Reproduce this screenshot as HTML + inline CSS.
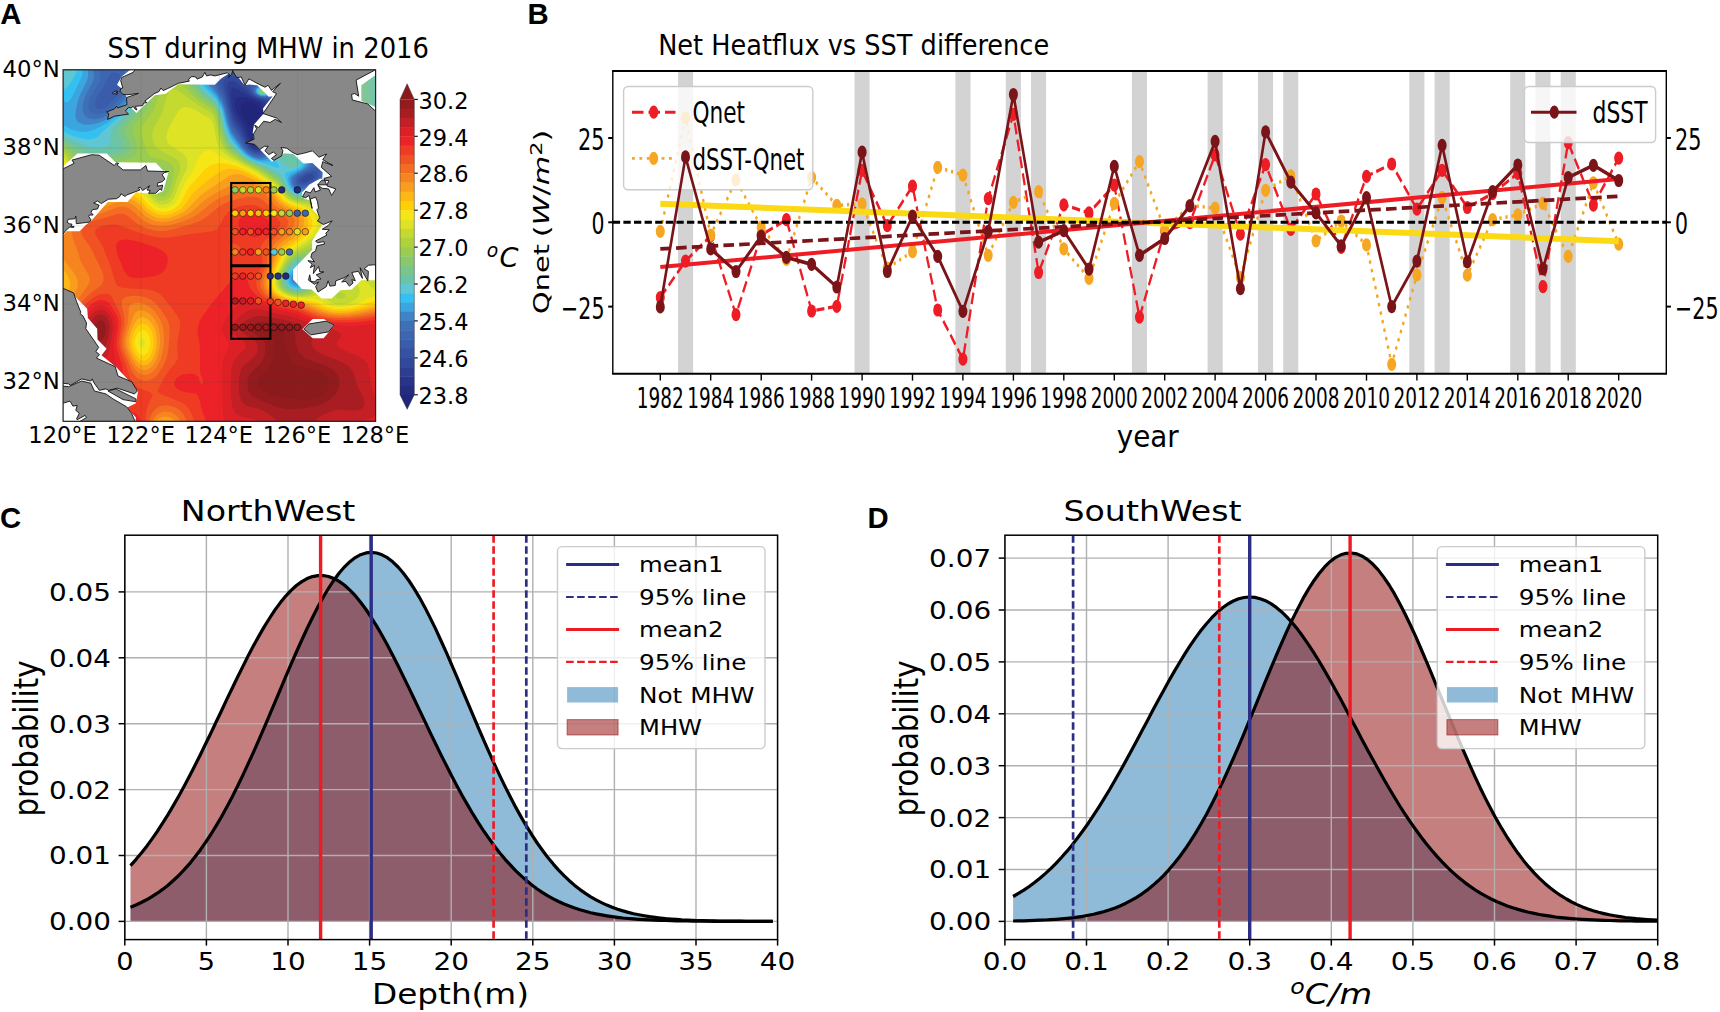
<!DOCTYPE html>
<html lang="en"><head><meta charset="utf-8"><title>MHW figure</title>
<style>html,body{margin:0;padding:0;background:#fff}svg{display:block}text{white-space:pre}</style></head>
<body>
<svg width="1720" height="1012" viewBox="0 0 1720 1012">
<rect width="1720" height="1012" fill="#fff"/>
<g id="panelA">
<clipPath id="clipA"><rect x="63.1" y="69.8" width="312.5" height="351.5"/></clipPath>
<g clip-path="url(#clipA)">
<rect x="63.1" y="69.8" width="312.5" height="351.5" fill="#21267a"/>
<path d="M63.1,421.3 375.6,421.3 375.6,69.8 63.1,69.8ZM256.4,143.1 254.5,142.3 252.5,138.6 251.9,130.3 251.3,128.4 244.7,119.7 243.0,116.7 241.3,112.8 240.5,108.9 240.8,106.2 241.2,105.0 242.8,103.1 244.7,102.1 248.6,101.7 254.5,103.3 257.3,105.0 259.4,106.9 261.5,110.8 262.0,112.8 262.0,116.7 261.0,120.6 258.7,126.4 258.4,128.4 259.3,136.2 259.0,140.1 258.4,141.8Z" fill="#242c82" fill-rule="evenodd"/>
<path d="M63.1,421.3 375.6,421.3 375.6,69.8 63.1,69.8ZM258.4,146.5 256.4,146.9 254.5,146.3 252.5,144.6 250.8,142.1 246.2,128.4 240.2,118.6 237.1,112.8 235.2,106.9 234.7,101.0 235.0,98.8 236.9,97.0 242.8,97.0 246.7,97.6 256.1,101.0 259.8,103.0 262.1,105.0 264.6,108.9 266.0,114.7 265.7,120.6 263.5,128.4 262.2,138.2 261.3,142.1 260.4,144.4Z" fill="#28348a" fill-rule="evenodd"/>
<path d="M63.1,421.3 375.6,421.3 375.6,69.8 63.1,69.8ZM258.4,149.0 256.4,149.1 254.5,148.6 252.5,147.4 250.6,145.4 248.5,142.1 243.0,128.4 235.0,115.4 232.7,108.9 231.1,100.4 230.6,95.2 231.0,89.3 233.0,87.4 235.0,87.9 240.5,91.3 251.7,97.1 261.0,101.0 264.3,103.0 266.0,105.0 268.0,108.9 269.1,112.8 269.7,116.7 269.1,122.5 265.7,132.3 262.3,144.9 260.4,147.9Z" fill="#2d3e92" fill-rule="evenodd"/>
<path d="M63.1,421.3 375.6,421.3 375.6,69.8 63.1,69.8ZM260.4,150.2 258.4,150.9 256.4,150.9 254.5,150.4 250.7,147.9 249.0,146.0 246.7,142.1 241.4,130.3 235.0,120.6 233.1,116.7 231.1,109.9 227.2,89.3 227.2,85.4 227.8,83.5 229.3,81.5 231.1,80.9 233.0,81.0 235.0,81.8 246.7,90.9 251.4,95.2 256.4,98.1 265.8,101.0 268.5,103.0 270.1,105.8 272.8,114.7 273.2,118.6 272.7,122.5 267.3,134.2 263.6,146.0 262.3,148.4Z" fill="#32489a" fill-rule="evenodd"/>
<path d="M63.1,421.3 375.6,421.3 375.6,69.8 63.1,69.8ZM301.2,181.1 301.2,179.2 302.8,177.2 306.2,175.3 311.1,174.1 313.1,174.7 313.6,175.3 313.6,177.2 312.1,179.2 309.2,181.1 305.3,182.3 303.3,182.2ZM260.4,152.2 258.4,152.6 254.5,152.0 250.9,149.9 248.8,147.9 246.0,144.0 240.1,132.3 235.0,124.7 233.0,121.1 231.1,115.8 223.7,85.4 223.8,81.5 224.7,79.6 227.2,77.5 231.1,76.3 233.0,76.4 236.9,77.9 246.7,86.7 248.6,89.0 251.3,93.2 253.4,95.2 258.4,97.9 270.1,100.6 271.2,101.0 272.7,103.0 274.2,106.9 276.3,114.7 276.8,118.6 276.3,122.5 274.5,126.4 269.4,134.2 264.3,148.1 262.3,150.9Z" fill="#3652a2" fill-rule="evenodd"/>
<path d="M63.1,421.3 375.6,421.3 375.6,69.8 63.1,69.8ZM298.8,183.1 298.0,181.1 298.4,179.2 299.9,177.2 302.6,175.3 307.2,172.9 313.1,171.1 315.0,171.1 317.0,172.7 317.3,175.3 316.5,177.2 314.9,179.2 311.1,181.8 307.2,183.6 303.3,184.5 301.4,184.4ZM260.6,153.8 258.4,154.1 254.5,153.4 251.5,151.8 248.6,149.6 245.7,146.0 239.1,134.2 232.8,124.5 230.5,118.6 225.2,97.5 220.1,83.5 220.2,79.6 221.1,77.6 223.2,75.7 225.2,74.7 229.1,73.3 233.0,72.8 236.9,73.1 238.9,73.7 241.5,75.7 249.9,85.4 250.6,86.9 251.7,91.3 252.8,93.2 254.9,95.2 258.4,97.0 262.3,98.2 274.0,98.6 275.6,99.1 276.9,101.0 280.5,116.7 280.4,120.6 280.0,122.5 277.9,126.4 272.1,133.3 270.3,136.2 265.9,147.9 264.3,151.0 262.3,153.0Z" fill="#3a5caa" fill-rule="evenodd"/>
<path d="M63.1,421.3 375.6,421.3 375.6,69.8 276.0,69.8 277.9,71.2 281.8,73.3 283.8,75.0 285.5,77.6 286.5,81.5 286.8,85.4 286.5,89.3 284.0,103.0 284.0,106.9 285.0,116.7 284.6,120.6 283.2,124.5 281.8,126.4 276.0,131.7 272.1,136.3 270.1,140.1 265.6,151.8 264.3,153.5 262.3,154.9 258.4,155.6 256.4,155.3 252.5,153.8 247.3,149.9 244.2,146.0 238.9,137.0 233.0,128.3 231.1,124.3 229.8,120.6 226.0,105.0 224.2,99.1 217.0,83.5 216.4,79.6 216.9,77.6 218.2,75.7 220.8,73.7 223.2,72.6 232.6,69.8 63.1,69.8ZM297.5,185.0 296.1,183.1 295.7,181.1 296.1,179.2 297.5,177.2 299.4,175.6 303.3,173.2 315.0,167.3 317.0,166.9 318.9,167.8 319.9,169.4 320.4,171.4 319.9,175.3 318.9,177.2 317.2,179.2 314.8,181.1 311.1,183.3 305.3,185.7 301.4,186.3 299.4,186.0ZM98.3,108.7 95.9,106.9 95.1,105.0 95.0,103.0 96.0,99.1 98.0,95.2 104.7,85.4 110.0,74.0 111.9,72.6 113.9,72.5 117.8,73.6 119.7,74.7 122.4,77.6 123.5,81.5 123.1,85.4 121.7,89.3 117.8,95.1 112.5,101.0 106.3,106.9 102.2,108.9 100.2,109.1ZM277.0,93.2 277.4,91.3 277.0,89.3 275.7,87.4 272.0,83.5 271.1,81.5 271.6,75.7 270.7,73.7 268.2,72.7 266.2,72.3 260.4,72.0 254.5,72.5 250.6,73.7 249.3,75.7 249.5,77.6 250.4,79.6 253.2,83.5 253.4,85.4 252.8,89.3 253.0,91.3 254.0,93.2 256.2,95.2 258.4,96.4 262.3,97.4 268.2,97.6 272.1,96.7 275.1,95.2Z" fill="#3c66b1" fill-rule="evenodd"/>
<path d="M63.1,421.3 375.6,421.3 375.6,69.8 291.8,69.8 293.1,73.7 294.0,79.6 295.3,93.2 295.4,99.1 294.2,105.0 288.8,122.5 286.6,126.4 284.5,128.4 277.9,132.7 274.0,136.4 270.7,142.1 268.1,149.9 266.3,153.8 264.3,155.8 262.3,156.6 260.4,156.9 256.4,156.6 252.5,155.1 250.2,153.8 246.7,150.9 242.7,146.0 233.0,131.4 231.1,127.7 229.1,122.4 225.3,106.9 223.5,101.0 221.3,96.1 214.0,83.5 213.0,79.6 213.2,77.6 214.0,75.7 215.8,73.7 219.2,71.8 224.7,69.8 121.7,69.8 124.3,71.8 126.0,73.7 127.7,77.6 127.9,83.5 127.0,87.4 125.4,91.3 123.1,95.2 120.1,99.1 110.7,108.9 108.0,110.9 104.1,113.1 98.3,114.5 94.3,114.1 92.4,113.3 90.4,111.7 88.8,108.9 88.4,105.0 89.0,101.0 90.4,97.1 98.5,83.5 100.1,79.6 100.6,75.7 100.3,73.7 99.5,71.8 98.2,69.8 63.1,69.8ZM295.5,185.7 294.0,183.1 293.7,181.1 294.1,179.2 295.2,177.2 297.5,175.3 307.5,169.4 310.2,167.4 315.0,163.0 317.0,162.1 318.9,162.1 321.4,163.5 322.7,165.5 323.3,167.4 323.3,171.4 322.2,175.3 319.4,179.2 313.1,183.6 305.3,187.2 301.4,187.9 299.4,187.8 297.5,187.2ZM254.1,91.3 255.0,93.2 257.3,95.2 260.4,96.5 264.3,97.0 268.2,96.8 272.1,95.3 274.2,93.2 274.8,91.3 274.2,89.3 272.1,86.7 268.2,84.3 262.3,82.4 260.4,82.5 256.4,85.4 254.5,88.1 254.0,89.3Z" fill="#3e70b8" fill-rule="evenodd"/>
<path d="M63.1,421.3 375.6,421.3 375.6,69.8 305.3,69.8 303.9,73.7 303.3,77.6 303.5,81.5 305.2,93.2 305.6,99.1 305.1,105.0 303.9,108.9 301.5,112.8 297.5,118.1 292.9,126.4 291.3,128.4 288.5,130.3 279.9,133.9 276.0,136.6 274.0,138.9 272.1,142.3 268.3,153.8 267.1,155.7 264.3,157.8 260.4,158.4 256.4,157.8 252.5,156.3 248.6,154.0 246.0,151.8 241.2,146.0 233.0,134.3 231.1,130.9 228.6,124.5 224.7,108.9 222.0,101.0 218.9,95.2 212.0,85.4 210.0,81.5 209.6,79.6 209.5,77.6 210.1,75.7 211.4,73.7 214.0,71.8 218.6,69.8 127.9,69.8 129.6,71.8 131.3,75.7 131.7,81.5 131.0,85.4 129.9,89.3 128.2,93.2 125.8,97.1 122.8,101.0 117.5,106.9 110.0,113.5 106.1,116.0 102.2,117.8 98.3,118.8 94.3,119.2 89.6,118.6 85.9,116.7 84.2,114.7 83.3,112.8 82.6,108.9 83.2,103.0 84.9,97.1 87.6,91.3 92.1,83.5 93.7,79.6 94.2,75.7 93.9,73.7 92.4,69.8 63.1,69.8ZM297.5,281.1 295.5,280.7 294.8,278.8 295.5,276.2 297.5,274.9 299.4,276.4 299.6,278.8 298.2,280.7ZM294.4,187.0 292.9,185.0 291.8,181.1 292.0,179.2 293.0,177.2 294.9,175.3 304.8,169.4 307.3,167.4 309.1,165.5 313.1,159.5 315.0,158.0 317.0,157.5 318.9,157.6 320.9,158.2 323.3,159.6 324.8,161.4 325.8,163.5 326.2,165.5 326.3,169.4 325.4,173.3 324.6,175.3 321.6,179.2 319.2,181.1 312.8,185.0 307.2,187.8 303.3,189.1 299.4,189.4 297.5,189.0ZM255.0,91.3 255.9,93.2 258.4,95.1 260.4,95.9 264.3,96.5 268.2,96.1 270.4,95.2 272.7,93.2 273.3,91.3 272.7,89.3 270.1,86.8 266.2,85.3 262.3,84.7 258.4,85.8 256.4,87.4 255.2,89.3Z" fill="#4084c6" fill-rule="evenodd"/>
<path d="M63.1,421.3 375.6,421.3 375.6,69.8 317.4,69.8 318.1,75.7 318.0,81.5 313.7,114.7 312.1,118.6 306.5,124.5 305.1,126.4 304.4,128.4 304.5,130.3 305.8,136.2 306.5,142.1 306.2,146.0 305.3,147.6 303.3,147.9 299.4,146.0 297.5,143.5 294.6,138.2 293.6,136.9 291.6,135.5 287.7,134.7 281.8,135.4 277.9,137.3 276.0,139.0 274.0,141.6 272.1,146.0 270.1,154.1 268.5,157.7 266.2,159.3 262.3,159.9 258.4,159.5 254.5,158.4 250.6,156.5 246.6,153.8 241.1,147.9 231.1,133.9 228.0,126.4 223.6,108.9 221.3,102.7 217.4,95.9 208.9,85.4 206.8,81.5 206.1,77.6 206.3,75.7 207.2,73.7 209.1,71.8 212.8,69.8 133.1,69.8 134.2,71.8 135.0,75.7 135.1,79.6 134.2,85.4 132.4,91.3 130.5,95.2 128.1,99.1 125.2,103.0 115.5,112.8 110.0,117.1 106.1,119.6 102.2,121.6 96.3,123.6 90.4,124.6 86.5,124.8 82.6,124.3 78.7,122.5 76.8,120.6 75.8,118.6 75.3,114.7 76.0,108.9 78.5,99.1 81.7,91.3 86.6,81.5 87.9,77.6 88.2,73.7 87.5,69.8 63.1,69.8ZM295.5,284.5 292.6,282.7 291.6,281.0 291.3,278.8 291.6,276.8 293.6,273.3 295.5,271.5 297.5,270.7 299.4,270.8 301.9,272.9 302.7,274.9 303.0,278.8 302.4,280.7 301.2,282.7 299.4,284.0 297.5,284.6ZM293.6,188.3 291.6,185.8 290.4,183.1 290.0,179.2 290.6,177.2 292.2,175.3 302.2,169.4 304.7,167.4 306.5,165.5 308.3,161.6 309.6,155.7 310.8,153.8 313.1,153.0 318.9,153.5 322.8,154.7 324.8,155.7 326.8,157.5 328.7,161.6 329.3,165.5 329.0,169.4 327.1,175.3 324.0,179.2 321.6,181.1 313.1,186.1 307.2,189.1 303.3,190.5 299.4,190.9 297.5,190.6 295.5,189.8ZM255.8,91.3 256.8,93.2 258.4,94.5 260.4,95.4 264.3,96.1 268.2,95.4 270.1,94.4 271.5,93.2 272.1,91.3 271.4,89.3 268.2,86.8 266.2,86.1 262.3,85.8 260.4,86.2 258.0,87.4 256.2,89.3Z" fill="#3aa5de" fill-rule="evenodd"/>
<path d="M63.1,421.3 375.6,421.3 375.6,69.8 329.6,69.8 330.1,75.7 330.0,83.5 327.7,105.0 327.9,118.6 327.2,124.5 326.5,126.4 324.8,128.8 317.0,134.2 315.4,136.2 314.5,138.2 314.0,142.1 315.0,145.8 317.0,147.7 326.8,151.1 328.7,152.2 330.7,154.3 331.9,157.7 332.3,161.6 332.0,167.4 331.3,171.4 329.8,175.3 328.6,177.2 324.3,181.1 307.2,190.6 301.4,192.3 297.5,192.1 295.5,191.4 292.2,188.9 289.5,185.0 288.2,181.1 287.9,179.2 288.1,177.2 289.6,174.6 291.4,173.3 299.5,169.4 302.2,167.4 303.9,165.5 304.9,163.5 305.3,161.6 304.8,157.7 303.9,155.7 302.1,153.8 297.3,149.9 290.4,140.1 287.7,138.3 283.8,137.6 279.9,138.5 277.9,139.6 275.6,142.1 274.0,144.9 273.0,147.9 271.7,157.7 271.0,159.6 270.1,160.7 268.2,161.6 262.3,161.5 256.4,160.2 250.6,157.8 244.9,153.8 241.1,149.9 231.9,138.2 229.7,134.2 226.8,126.4 222.4,108.9 219.3,101.8 215.4,96.0 207.6,87.9 204.6,83.5 203.1,79.6 202.7,75.7 203.1,73.7 204.3,71.8 206.9,69.8 138.2,69.8 138.7,75.7 137.7,83.5 135.5,91.3 132.8,97.1 128.9,103.0 123.7,108.9 115.8,116.1 110.0,120.7 102.2,125.8 94.3,129.7 88.5,131.6 84.6,132.1 78.7,131.6 73.9,130.3 69.5,128.4 63.1,124.7ZM295.5,286.6 291.6,284.9 289.8,282.7 289.2,280.7 289.4,276.8 291.2,272.9 293.6,270.0 295.5,268.5 297.5,267.7 299.4,267.6 301.4,268.2 304.0,271.0 305.3,274.9 305.3,278.8 304.0,282.7 302.3,284.6 299.4,286.3ZM65.1,101.9 67.0,102.2 69.0,101.2 70.9,98.8 72.9,95.3 81.4,77.6 82.4,73.7 82.6,69.8 63.1,69.8 63.1,100.6ZM256.7,91.3 257.6,93.2 260.4,94.9 264.3,95.6 268.2,94.8 270.4,93.2 271.1,91.3 270.3,89.3 268.2,87.7 264.3,86.6 260.4,87.0 258.4,88.1 257.1,89.3Z" fill="#34c0f0" fill-rule="evenodd"/>
<path d="M63.1,421.3 375.6,421.3 375.6,69.8 341.9,69.8 341.5,81.5 343.1,105.0 341.7,120.6 341.7,124.5 342.4,128.4 346.3,138.3 346.8,142.1 346.0,146.0 345.0,147.9 340.4,152.7 338.3,155.7 336.5,160.5 333.9,173.3 332.0,177.2 330.4,179.2 327.9,181.1 317.0,186.6 307.2,192.1 303.3,193.5 299.4,193.8 297.5,193.6 293.6,191.8 291.6,190.3 289.0,187.0 286.4,181.1 285.1,175.3 285.7,172.9 287.7,171.7 295.5,169.5 299.4,167.4 301.3,165.5 302.1,163.5 302.3,161.6 301.9,159.6 300.8,157.7 294.9,151.8 289.7,144.0 287.7,141.9 285.7,140.8 283.8,140.3 281.8,140.3 279.9,140.9 277.9,142.1 275.3,146.0 274.3,149.9 274.4,155.7 276.0,160.8 278.8,165.5 278.8,167.4 277.9,167.8 276.0,167.4 268.2,164.5 256.4,161.4 250.6,159.0 246.7,156.6 243.3,153.8 234.4,144.0 230.2,138.2 227.5,132.3 225.7,126.4 221.8,110.8 219.3,104.7 215.4,98.6 205.6,89.3 202.8,85.4 200.7,81.5 199.5,77.6 199.1,73.7 199.6,71.8 200.9,69.8 143.6,69.8 140.8,83.5 138.6,91.3 136.1,97.1 132.6,103.0 125.8,110.8 106.0,128.4 98.3,136.3 96.3,137.7 92.4,139.0 88.5,139.3 84.6,139.0 78.7,137.8 73.7,136.2 68.9,134.2 63.1,131.2ZM291.0,286.6 288.8,284.6 287.6,282.7 287.2,280.7 287.6,276.8 289.6,272.1 293.6,267.4 297.5,265.1 299.4,264.8 301.4,265.1 303.3,266.1 305.8,269.0 306.6,271.0 307.4,274.9 306.9,280.7 305.3,284.2 302.9,286.6 299.4,288.0 295.5,288.2ZM257.4,91.3 258.5,93.2 260.4,94.3 264.3,95.1 268.2,94.1 269.4,93.2 270.2,91.3 269.2,89.3 268.2,88.5 264.3,87.3 260.4,87.8 258.1,89.3ZM63.1,89.3 65.1,88.7 66.8,87.4 69.0,85.1 74.8,75.8 77.2,69.8 63.1,69.8Z" fill="#5fc6d4" fill-rule="evenodd"/>
<path d="M63.1,421.3 375.6,421.3 375.6,69.8 353.9,69.8 354.0,81.5 356.1,99.1 358.0,110.8 361.8,124.5 362.4,128.4 359.6,144.0 359.3,149.9 359.5,155.7 358.0,157.2 352.1,157.8 348.2,158.7 344.3,160.6 342.4,162.4 340.4,165.5 337.1,177.2 335.9,179.2 333.8,181.1 329.7,183.1 318.9,187.2 307.2,193.7 303.3,195.0 299.4,195.2 297.5,195.0 292.7,192.8 288.7,188.9 286.3,185.0 282.5,177.2 279.9,174.2 268.2,167.1 254.5,161.9 248.6,159.1 241.6,153.8 234.0,146.0 229.7,140.1 226.9,134.2 225.0,128.4 221.1,112.8 217.9,105.0 215.4,101.2 213.5,99.1 205.7,92.7 201.0,87.4 198.6,83.5 196.0,77.6 194.8,73.7 194.5,69.8 149.9,69.8 147.1,74.4 141.1,93.2 138.6,99.1 136.4,103.0 131.5,109.4 115.9,124.5 112.6,128.4 111.4,130.3 110.2,134.2 110.4,142.1 110.1,144.0 108.0,146.3 104.1,147.6 100.2,148.1 94.3,148.0 90.4,147.3 84.6,145.6 70.9,139.8 63.1,135.7ZM291.5,288.5 287.7,285.9 285.8,282.7 285.5,278.8 287.4,272.9 289.6,269.2 291.6,266.8 295.5,263.6 299.4,262.2 303.3,262.8 305.3,264.0 307.2,266.4 308.9,271.0 309.3,276.8 308.1,282.7 307.2,284.6 305.6,286.6 303.3,288.3 301.4,289.1 297.5,289.8 293.6,289.2ZM367.8,165.9 365.8,166.7 363.9,166.1 361.9,164.0 360.4,159.6 361.7,157.7 365.8,158.8 367.8,160.3 368.4,161.6 368.6,163.5ZM297.5,165.8 298.8,163.5 298.8,161.6 297.9,159.6 292.4,153.8 287.5,146.0 285.7,144.3 283.8,143.3 281.8,143.2 279.4,144.0 277.5,146.0 276.3,149.9 276.7,153.8 278.6,157.7 286.2,165.5 289.2,167.4 293.6,167.6 295.5,167.0ZM258.2,91.3 259.4,93.2 260.4,93.8 264.3,94.6 266.2,94.3 268.2,93.4 269.3,91.3 268.2,89.3 266.2,88.3 264.3,87.9 262.3,87.9 260.4,88.5 259.1,89.3ZM63.1,72.7 65.1,72.3 68.3,69.8 63.1,69.8Z" fill="#6cc4a8" fill-rule="evenodd"/>
<path d="M63.1,421.3 375.6,421.3 375.6,173.1 373.6,176.3 371.7,177.4 367.8,178.2 358.0,178.9 354.1,179.8 352.1,181.1 348.8,185.0 346.6,187.0 344.3,188.0 340.4,188.2 332.6,186.4 326.8,186.6 318.9,188.9 309.2,194.6 305.3,196.1 299.4,196.6 295.5,195.8 293.6,194.9 290.6,192.8 288.6,190.9 285.9,187.0 281.8,179.9 277.9,175.8 264.9,167.4 252.5,162.3 246.7,159.2 239.7,153.8 231.9,146.0 229.1,142.1 226.2,136.2 224.2,130.3 220.4,114.7 217.3,106.9 213.5,101.6 204.9,95.2 200.9,91.3 196.5,85.4 190.0,73.8 188.1,71.2 186.4,69.8 158.3,69.8 154.9,71.8 152.9,73.7 151.0,76.4 149.4,79.6 144.0,95.2 141.4,101.0 139.1,105.0 134.7,110.8 121.2,124.5 118.6,128.4 117.9,130.3 117.9,134.2 121.2,142.1 122.1,146.0 121.7,147.9 120.2,149.9 117.8,151.4 113.9,152.7 106.9,153.8 96.3,154.1 90.4,153.6 86.5,152.6 82.6,150.9 63.1,139.6ZM289.6,289.2 286.2,286.6 284.8,284.6 284.1,282.7 283.8,280.7 284.3,276.8 286.8,271.0 289.3,267.1 291.6,264.3 295.5,261.2 297.5,260.3 301.4,259.6 305.3,260.3 307.2,261.6 308.6,263.1 309.6,265.1 310.7,269.0 311.1,276.8 310.6,280.7 309.2,284.6 308.0,286.6 305.9,288.5 301.4,290.7 295.5,291.0 293.0,290.5ZM285.7,155.9 286.5,153.8 285.5,149.9 283.8,147.7 281.8,147.2 280.4,147.9 279.5,149.9 279.9,152.4 281.8,154.7 283.8,155.8ZM375.6,118.4 375.6,69.8 365.2,69.8 366.9,75.7 368.0,81.5 368.4,99.1 369.1,105.0 370.9,110.8 373.0,114.7ZM259.0,91.3 260.4,93.3 262.3,93.9 264.3,94.1 267.2,93.2 268.4,91.3 266.9,89.3 264.3,88.5 262.3,88.6 260.4,89.2Z" fill="#7ac58a" fill-rule="evenodd"/>
<path d="M63.1,421.3 375.6,421.3 375.6,194.8 373.6,191.6 371.7,189.5 369.7,188.5 365.8,188.6 361.9,190.5 356.7,194.8 354.1,196.3 352.1,197.1 348.2,197.9 344.3,197.8 340.4,197.0 336.5,195.1 330.7,190.9 326.8,189.8 322.8,190.0 319.7,190.9 311.1,195.7 305.3,197.8 301.4,198.1 297.5,197.7 294.5,196.7 291.6,195.2 287.7,191.7 280.6,181.1 276.6,177.2 264.3,168.9 250.6,162.6 245.3,159.6 240.0,155.7 231.4,147.9 228.4,144.0 225.4,138.2 222.8,130.3 219.0,114.7 217.4,110.4 215.4,106.8 211.5,102.6 203.7,97.4 199.2,93.2 194.3,87.4 188.1,78.2 186.0,75.7 182.2,72.8 179.4,71.8 176.4,71.1 168.6,71.1 162.7,72.5 160.1,73.7 157.4,75.7 154.2,79.6 151.4,85.4 146.5,99.1 142.5,106.9 138.1,112.8 127.2,124.5 125.0,128.4 124.6,130.3 125.3,134.2 128.9,142.1 130.0,146.0 130.0,147.9 129.5,149.9 128.3,151.8 125.6,154.3 121.7,156.2 113.9,157.8 96.3,159.0 88.5,158.7 84.6,157.7 80.7,155.7 70.4,147.9 63.1,143.0ZM286.1,288.5 284.2,286.6 283.0,284.6 282.4,282.7 282.4,278.8 283.4,274.9 285.2,271.0 289.6,264.0 293.6,260.2 295.5,258.9 299.4,257.3 305.3,256.9 307.2,257.4 309.2,258.4 311.1,260.6 312.2,263.1 313.2,271.0 313.0,276.8 312.5,280.7 311.2,284.6 310.2,286.6 308.6,288.5 306.0,290.5 303.3,291.6 299.4,292.3 295.5,292.2 291.6,291.4 289.3,290.5ZM259.9,91.3 261.7,93.2 264.3,93.6 266.2,93.0 267.4,91.3 266.2,89.8 264.3,89.1 261.8,89.3Z" fill="#8ac86c" fill-rule="evenodd"/>
<path d="M63.1,421.3 375.6,421.3 375.6,215.0 360.0,213.0 356.0,211.9 350.2,209.6 336.5,203.6 332.6,200.6 326.8,194.8 324.8,194.0 322.8,193.7 318.9,194.4 311.1,198.2 305.3,199.5 301.4,199.6 297.5,199.1 291.6,196.7 287.0,192.8 279.9,182.7 276.0,178.8 262.1,169.4 248.6,162.9 243.1,159.6 233.0,151.8 229.1,148.0 226.3,144.0 223.6,138.2 221.8,132.3 217.4,114.7 214.6,108.9 211.5,105.4 203.7,100.7 197.2,95.2 193.4,91.3 183.8,79.6 180.3,76.9 177.2,75.7 174.4,75.1 168.6,75.4 164.7,76.7 162.7,77.8 158.8,81.5 156.4,85.4 149.9,103.0 146.9,108.9 143.2,114.1 134.2,124.5 132.3,128.4 132.3,132.3 136.0,142.1 137.3,147.9 136.9,151.8 136.0,153.8 134.6,155.7 132.1,157.7 127.5,159.8 119.7,161.6 92.4,163.7 86.5,163.4 82.6,162.3 78.7,160.1 67.7,149.9 63.1,146.3ZM284.0,288.5 282.3,286.6 281.3,284.6 280.8,282.7 280.9,278.8 281.9,274.9 283.6,271.0 287.0,265.1 289.6,261.5 291.8,259.2 295.5,256.6 301.4,254.4 305.3,253.7 309.2,253.5 313.1,254.4 314.3,255.3 315.4,257.3 316.0,261.2 315.5,272.9 314.0,282.7 312.5,286.6 311.1,288.6 309.2,290.5 305.5,292.4 301.4,293.4 297.5,293.6 293.6,293.1 289.6,292.0 286.6,290.5ZM160.8,191.1 158.8,190.5 156.8,189.0 154.9,186.2 153.1,181.1 152.6,177.2 153.0,173.3 154.9,169.6 156.8,168.2 158.8,167.5 160.8,167.4 162.7,167.9 164.7,168.8 166.6,170.8 167.8,173.3 168.3,177.2 167.5,183.1 166.1,187.0 164.7,189.2 162.7,190.8ZM261.0,91.3 262.3,92.5 264.3,92.8 266.4,91.3 264.3,90.0 262.3,90.2Z" fill="#9acc52" fill-rule="evenodd"/>
<path d="M63.1,421.3 375.6,421.3 375.6,238.3 371.7,239.8 369.7,240.1 367.8,239.8 360.0,235.2 348.2,230.6 344.3,228.4 341.9,226.0 337.4,218.2 334.5,214.3 326.8,206.7 322.8,202.1 320.9,200.6 318.9,200.1 317.0,200.1 309.2,201.1 301.4,201.0 295.5,199.9 291.6,198.2 289.3,196.7 285.3,192.8 278.3,183.1 274.0,179.3 260.4,170.1 242.8,161.0 232.4,153.8 228.1,149.9 225.1,146.0 222.3,140.1 220.5,134.2 216.3,116.7 213.5,110.8 211.5,108.7 203.7,104.3 196.7,99.1 190.2,93.2 182.2,84.8 178.3,81.9 176.4,81.1 172.5,80.5 168.6,81.3 166.6,82.3 163.2,85.4 160.8,89.3 154.0,108.9 150.6,114.7 143.2,124.5 141.2,128.4 140.9,130.3 141.3,134.2 147.1,151.9 149.0,155.1 151.0,156.7 152.9,157.5 162.7,159.8 167.2,161.6 170.5,163.7 172.2,165.5 173.3,167.4 173.8,169.4 173.9,173.3 172.9,179.2 171.4,185.0 168.6,191.9 166.6,194.5 164.7,195.9 162.7,196.6 160.8,196.6 158.8,196.1 156.7,194.8 152.9,190.9 150.6,187.0 148.9,183.1 144.5,169.4 143.2,167.0 141.2,165.4 139.3,164.8 135.4,164.7 121.7,166.2 104.1,166.9 92.4,168.2 88.5,168.3 84.6,167.9 80.7,166.7 76.8,164.1 67.7,153.8 63.1,149.5ZM282.0,288.5 280.5,286.6 279.2,282.7 279.1,280.7 279.8,276.8 282.1,271.0 285.7,264.2 289.3,259.2 291.6,257.0 297.5,253.3 318.9,245.0 322.8,244.7 325.4,245.6 326.8,247.0 327.8,249.5 327.8,253.4 325.9,257.3 322.8,261.2 320.9,264.5 318.9,270.1 315.8,284.6 314.0,288.5 312.4,290.5 309.8,292.4 305.3,294.1 301.4,294.7 297.5,294.8 291.6,293.8 287.7,292.5 284.2,290.5Z" fill="#aed23c" fill-rule="evenodd"/>
<path d="M375.6,421.3 375.6,265.8 373.6,263.7 372.1,263.1 365.8,262.9 358.0,264.6 347.1,269.0 342.4,270.3 338.5,270.6 330.7,269.2 326.8,269.8 324.8,271.1 322.8,273.5 320.9,277.9 318.4,286.6 316.3,290.5 313.1,293.2 309.2,294.9 301.4,296.0 293.6,295.5 287.7,293.8 284.8,292.4 281.8,290.4 278.7,286.6 277.9,284.6 277.6,280.7 278.3,276.8 279.7,272.9 285.8,261.2 289.6,256.2 293.6,253.0 307.2,246.1 326.6,233.9 328.3,231.9 329.6,228.0 329.4,224.1 328.1,220.2 324.4,214.3 317.0,206.5 315.0,205.3 311.1,204.0 299.4,202.2 295.5,201.3 289.6,198.6 285.2,194.8 278.1,185.0 273.9,181.1 259.6,171.4 244.7,163.7 231.1,155.3 226.8,151.8 223.5,147.9 220.4,142.1 218.7,136.2 215.4,120.8 213.5,115.6 211.5,112.9 209.6,111.4 203.7,108.5 189.6,99.1 178.3,90.7 174.4,89.6 172.5,89.8 170.5,90.8 168.3,93.2 166.5,97.1 162.8,110.8 160.1,116.7 153.4,128.4 152.7,130.3 152.2,134.2 152.5,138.2 153.6,142.1 155.6,146.0 157.2,147.9 159.4,149.9 162.6,151.8 174.5,157.7 176.9,159.6 178.6,161.6 180.1,165.5 180.3,167.4 179.7,171.4 172.4,192.8 170.5,196.2 168.6,198.5 164.7,200.7 160.8,200.9 158.8,200.4 156.8,199.4 153.5,196.7 148.9,190.9 141.2,177.7 139.3,175.6 137.3,174.1 133.4,172.7 129.5,172.2 106.1,171.7 88.5,172.8 82.6,172.2 78.7,170.7 74.8,167.9 65.9,155.7 63.1,152.6 63.1,421.3ZM335.4,296.3 336.0,294.4 338.5,292.8 340.4,292.5 342.4,292.8 344.9,294.4 345.4,296.3 343.8,298.3 340.4,299.1 336.6,298.3Z" fill="#c5da30" fill-rule="evenodd"/>
<path d="M375.6,421.3 375.6,290.2 370.9,286.6 367.8,283.1 365.8,281.4 363.9,280.5 361.9,280.3 360.0,280.6 357.4,282.7 357.2,284.6 359.1,288.5 359.7,290.5 359.8,292.4 358.4,296.3 356.9,298.3 354.6,300.3 351.1,302.2 344.3,304.1 340.4,304.4 336.5,304.2 330.3,302.2 327.4,300.3 322.8,296.0 320.9,295.1 318.9,295.0 307.2,297.1 297.5,297.1 291.6,296.2 287.7,295.1 283.8,293.3 279.8,290.5 277.9,288.3 276.2,284.6 275.9,282.7 276.2,278.8 279.0,271.0 285.0,259.2 287.7,255.4 291.6,251.8 305.5,243.6 315.3,235.8 319.5,231.9 322.1,228.0 322.6,226.0 322.6,224.1 321.6,220.2 318.1,214.3 314.9,210.4 312.8,208.5 309.5,206.5 307.2,205.7 295.5,202.7 289.6,200.2 285.1,196.7 277.8,187.0 274.0,183.2 256.6,171.4 230.4,157.7 224.6,153.8 220.8,149.9 218.3,146.0 216.2,140.1 213.3,124.5 211.5,120.0 209.6,117.9 203.7,115.3 196.9,110.8 193.2,108.9 188.1,107.2 184.2,107.1 182.2,107.6 180.3,108.9 178.3,111.0 169.7,126.4 167.1,132.3 166.3,136.2 166.8,140.1 167.6,142.1 169.0,144.0 171.2,146.0 180.3,151.4 184.2,154.5 186.4,157.7 187.1,159.6 187.6,163.5 186.5,169.4 180.3,181.9 174.4,197.2 172.5,200.1 170.5,202.1 168.6,203.4 165.4,204.6 160.8,204.7 158.8,204.2 154.9,202.1 149.4,196.7 143.2,188.1 139.3,183.5 137.3,182.0 133.4,180.1 129.5,179.3 119.7,178.8 106.1,177.4 86.5,177.3 80.7,176.3 76.8,174.8 74.8,173.5 72.7,171.4 70.9,168.9 65.8,159.6 63.1,155.9 63.1,421.3Z" fill="#dee326" fill-rule="evenodd"/>
<path d="M63.1,159.5 63.1,421.3 375.6,421.3 375.6,296.6 369.7,297.4 356.0,304.2 350.2,305.9 342.4,307.0 336.5,306.8 332.6,306.2 328.7,305.1 317.0,299.5 313.1,298.9 297.5,298.3 287.7,296.3 281.8,293.7 277.9,290.7 276.1,288.5 274.4,284.6 274.2,280.7 275.7,274.9 282.9,259.2 285.7,254.5 287.7,252.2 291.0,249.5 300.6,243.6 305.8,239.7 312.0,233.9 315.2,229.9 316.3,228.0 317.2,224.1 316.5,220.2 313.4,214.3 310.1,210.4 305.3,207.4 293.6,203.6 287.6,200.7 283.1,196.7 277.4,188.9 274.0,185.3 270.1,182.3 256.6,173.3 236.9,163.5 223.3,157.7 219.5,155.7 211.5,150.7 209.6,150.1 207.6,150.3 203.7,152.3 199.8,156.4 192.9,171.4 183.7,185.0 178.0,198.7 175.5,202.6 173.6,204.6 170.5,206.6 164.7,208.3 160.8,208.2 158.8,207.8 155.9,206.5 152.9,204.6 149.0,200.9 139.3,189.5 137.3,188.0 133.4,186.2 129.5,185.3 115.8,184.8 100.2,183.1 84.6,181.9 78.7,180.9 74.8,179.5 72.9,178.2 70.3,175.3 69.0,172.8 65.3,163.5ZM141.2,347.2 139.9,345.2 139.4,343.2 139.6,341.3 141.2,338.7 143.2,338.7 144.8,341.3 145.1,343.4 144.7,345.2 143.4,347.1Z" fill="#f7e616" fill-rule="evenodd"/>
<path d="M63.1,164.1 63.1,421.3 375.6,421.3 375.6,300.8 371.7,301.6 359.1,306.1 351.5,308.1 342.4,309.1 334.6,308.8 326.8,307.0 317.0,302.7 313.1,301.4 293.6,298.9 285.7,297.0 281.8,295.3 277.5,292.4 275.5,290.5 273.0,286.6 272.2,282.7 273.2,276.8 281.6,257.3 283.8,253.3 287.7,248.9 298.7,241.7 303.5,237.8 308.9,231.9 311.5,228.0 312.5,224.1 312.1,220.2 309.3,214.3 305.6,210.4 302.4,208.5 289.6,203.6 285.7,201.3 281.8,197.8 276.0,189.8 273.4,187.0 268.3,183.1 256.4,175.4 248.9,171.4 240.4,167.4 235.0,165.4 229.1,164.0 223.2,163.2 216.8,163.5 211.5,164.9 207.6,167.2 203.7,170.7 189.1,187.0 186.1,191.8 181.9,200.7 178.3,205.5 174.6,208.5 170.6,210.4 166.6,211.5 162.7,211.8 156.8,210.5 152.9,208.5 148.4,204.6 139.3,194.6 135.4,191.9 131.5,190.5 125.6,189.8 106.1,189.8 98.3,189.4 76.8,186.6 70.9,185.0 69.0,183.9 67.0,181.1 64.8,169.4ZM143.2,355.4 141.1,354.9 139.3,353.6 137.3,351.2 135.4,347.1 134.7,343.2 135.4,337.9 137.3,333.7 139.3,331.4 141.2,330.2 143.2,330.0 145.1,330.7 147.1,332.5 148.8,335.4 149.9,339.3 150.2,343.2 149.7,347.1 148.3,351.0 147.1,353.1 145.1,354.8Z" fill="#ffd008" fill-rule="evenodd"/>
<path d="M63.1,421.3 375.6,421.3 375.6,304.2 360.0,308.4 352.1,310.1 342.4,311.1 334.6,310.8 329.8,310.0 324.8,308.6 313.1,303.8 309.2,302.7 291.6,299.8 285.7,298.3 279.9,295.8 275.0,292.4 273.2,290.5 271.0,286.6 270.4,284.6 270.4,280.7 272.0,274.9 276.5,265.1 280.9,253.4 283.4,249.5 285.2,247.5 297.5,239.0 301.0,235.8 304.5,231.9 306.9,228.0 308.2,224.1 308.0,220.2 306.6,216.3 303.6,212.4 299.4,209.5 289.6,205.5 283.8,202.1 280.3,198.7 274.0,190.4 270.1,186.7 254.5,176.9 247.5,173.3 240.8,170.6 235.0,168.9 229.1,168.7 225.1,169.4 220.8,171.4 211.5,177.5 195.9,190.3 192.0,194.5 185.1,204.6 181.2,208.5 178.3,210.5 174.4,212.6 170.5,214.0 166.6,214.8 162.7,215.1 158.8,214.6 152.9,212.3 147.8,208.5 141.2,201.4 137.3,197.8 133.4,195.6 129.5,194.4 123.6,193.8 117.8,194.0 96.3,196.6 90.4,196.4 74.8,194.8 69.0,195.2 65.1,196.1 63.1,196.9 63.1,278.2 64.0,280.7 64.4,284.6 64.1,286.6 63.1,288.9ZM143.2,360.7 141.2,360.2 139.3,359.0 135.4,354.2 133.4,350.4 132.3,347.1 131.6,341.3 132.7,335.4 135.4,329.6 137.3,326.8 139.3,324.9 141.2,323.9 143.2,323.6 145.1,324.1 147.1,325.3 149.0,327.2 151.0,330.2 152.9,335.8 153.6,343.2 152.9,349.1 150.8,354.9 149.0,357.7 147.1,359.5 145.1,360.5Z" fill="#fdb816" fill-rule="evenodd"/>
<path d="M63.1,421.3 160.7,421.3 164.7,420.6 168.1,421.3 375.6,421.3 375.6,306.9 360.0,310.6 350.2,312.3 340.4,312.9 332.6,312.4 322.8,310.1 307.2,304.0 289.6,300.6 283.8,299.0 277.6,296.3 272.5,292.4 270.8,290.5 268.8,286.6 268.3,284.6 268.3,280.7 270.0,274.9 275.1,263.1 278.7,251.4 280.9,247.5 282.7,245.6 293.9,237.8 297.5,234.7 299.9,231.9 302.5,228.0 303.9,224.1 304.0,220.2 303.5,218.2 301.4,214.4 299.2,212.4 296.1,210.4 285.7,205.8 281.1,202.6 277.9,199.2 272.1,191.5 268.2,188.0 252.7,179.2 243.4,175.3 238.9,174.2 235.0,174.1 231.1,175.0 229.1,175.9 207.6,190.2 201.8,194.6 197.2,198.7 190.0,206.5 184.2,211.4 176.4,215.5 168.6,217.9 164.7,218.4 160.8,218.4 156.8,217.7 152.9,216.3 147.1,212.5 139.3,204.5 135.4,201.2 131.5,199.2 125.6,197.9 119.7,197.9 114.0,198.7 100.2,202.8 94.3,203.9 88.5,204.5 72.9,204.9 67.0,206.2 65.1,207.1 63.1,208.8 63.1,269.4 65.9,272.9 68.2,276.8 69.7,280.7 70.3,284.6 69.7,288.5 67.8,292.4 65.9,294.4 63.1,296.1ZM143.2,365.4 141.2,364.9 138.2,362.8 135.4,359.4 133.4,356.3 130.9,351.0 129.5,347.1 128.9,341.3 129.4,337.4 130.4,333.5 132.7,327.6 135.4,322.4 137.3,319.6 139.3,318.0 141.2,317.2 143.2,317.2 147.1,318.7 149.0,320.2 152.9,325.2 154.9,329.5 156.0,333.5 156.8,341.3 156.4,347.1 155.7,351.0 154.6,354.9 152.8,358.8 151.0,361.6 149.0,363.5 147.1,364.7 145.1,365.3Z" fill="#f99e1c" fill-rule="evenodd"/>
<path d="M63.1,421.3 155.7,421.3 158.8,418.3 160.8,417.3 164.7,416.4 168.6,416.9 170.5,417.6 172.5,418.8 174.9,421.3 375.6,421.3 375.6,309.5 360.0,312.7 350.2,314.2 340.4,314.7 330.7,313.9 320.9,311.5 307.7,306.1 303.3,304.7 287.7,301.5 281.8,299.9 274.4,296.3 270.1,292.8 268.3,290.5 266.4,286.6 265.9,284.6 266.0,280.7 267.7,274.9 272.7,263.1 276.0,249.1 277.9,245.6 279.7,243.6 290.7,235.8 295.5,231.2 298.7,226.0 299.7,222.1 299.7,220.2 298.2,216.3 296.6,214.3 293.9,212.4 283.8,207.5 279.9,205.0 277.3,202.6 270.1,193.5 267.3,190.9 260.7,187.0 250.6,182.8 246.7,181.8 242.8,181.3 238.9,181.8 235.0,183.3 217.4,191.9 211.5,195.4 203.7,201.1 193.3,210.4 187.7,214.3 178.3,218.7 168.6,221.4 162.7,222.0 158.8,221.8 154.9,221.0 151.0,219.6 145.1,216.0 137.3,208.2 133.4,205.0 129.5,203.0 123.6,201.8 119.7,202.0 115.8,202.7 98.3,208.9 80.7,211.6 74.8,213.1 72.4,214.3 70.0,216.3 67.7,220.2 63.1,237.9 63.1,259.0 74.0,272.9 77.0,278.8 77.8,282.7 77.8,284.6 77.0,288.5 75.3,292.4 72.7,296.3 70.9,298.3 68.1,300.3 65.1,301.4 63.1,301.5ZM145.1,370.0 141.2,369.5 139.3,368.4 135.4,364.4 131.9,358.8 129.1,353.0 127.0,347.1 126.4,343.2 126.5,339.3 127.5,334.0 133.4,315.6 135.4,312.4 137.3,310.9 139.3,310.2 143.2,310.4 147.1,312.1 151.0,315.1 152.9,317.3 155.9,321.7 157.7,325.6 158.8,329.5 159.9,335.4 160.1,341.3 159.7,347.1 158.6,353.0 156.8,358.8 154.8,362.8 151.8,366.7 149.0,368.8Z" fill="#f68520" fill-rule="evenodd"/>
<path d="M63.1,421.3 152.2,421.3 154.9,416.8 158.8,413.4 162.7,411.8 166.6,411.5 170.5,412.2 174.4,413.9 178.2,417.4 180.3,421.3 375.6,421.3 375.6,312.0 358.0,315.1 348.2,316.2 338.5,316.4 328.7,315.4 318.9,312.9 302.0,306.1 285.7,302.5 279.9,300.9 274.0,298.3 271.0,296.3 268.2,293.9 265.5,290.5 263.7,286.6 263.3,284.6 263.4,280.7 265.0,274.9 270.0,263.1 270.7,259.2 271.5,251.4 272.3,247.5 274.0,244.3 276.3,241.7 286.9,233.9 291.0,229.9 293.5,226.0 294.2,224.1 294.6,220.2 294.0,218.2 291.6,215.4 289.6,213.9 277.9,207.6 274.3,204.6 266.2,195.0 262.3,192.4 258.4,190.8 252.5,189.5 246.7,189.5 238.9,191.3 225.2,195.6 219.3,198.2 213.5,201.7 197.9,213.9 192.0,217.5 182.2,221.7 176.4,223.5 168.6,225.4 162.7,226.0 158.8,225.9 152.9,224.9 149.0,223.6 145.1,221.6 141.2,218.9 133.4,211.4 129.5,208.5 125.6,206.9 123.6,206.6 117.8,207.1 102.2,212.9 82.6,217.4 77.2,220.2 75.2,222.1 73.9,224.1 73.0,226.0 72.2,229.9 72.3,235.8 73.2,239.7 77.0,249.5 80.7,261.2 82.6,265.1 88.8,274.9 89.8,278.8 89.7,280.7 88.3,284.6 85.8,288.5 78.4,298.3 74.9,302.2 72.6,304.2 69.0,306.4 65.1,307.2 63.1,306.9ZM145.1,374.9 141.2,374.3 139.3,373.4 137.3,371.9 134.5,368.6 131.5,363.4 127.3,354.9 125.1,349.1 124.2,345.2 124.1,339.3 127.9,321.7 128.9,308.1 129.6,306.1 131.5,304.2 135.4,302.8 139.3,302.7 145.1,304.2 149.0,306.4 152.9,309.6 156.8,314.2 160.2,319.8 162.5,325.6 163.7,331.5 164.0,339.3 163.5,347.1 162.1,354.9 160.2,360.8 156.8,367.2 152.9,371.7 149.0,374.1Z" fill="#f36c22" fill-rule="evenodd"/>
<path d="M63.1,421.3 148.9,421.3 151.0,415.1 152.9,411.9 154.9,409.6 158.8,406.8 160.8,406.1 164.7,405.4 168.6,405.6 172.5,406.4 176.4,408.0 179.0,409.6 182.2,412.7 184.2,415.5 186.5,421.3 375.6,421.3 375.6,314.5 360.0,316.9 348.2,318.1 336.5,318.2 326.8,317.0 317.0,314.4 299.4,307.3 283.8,303.7 277.9,302.0 270.1,298.3 265.2,294.4 263.6,292.4 261.3,288.5 260.6,286.6 260.1,282.7 261.2,276.8 265.4,267.1 266.7,263.1 267.2,259.2 267.0,251.4 267.4,247.5 269.0,243.6 270.6,241.7 274.7,237.8 282.5,231.9 285.7,228.5 287.3,226.0 288.3,222.1 287.9,220.2 286.7,218.2 284.6,216.3 274.0,210.0 269.5,206.5 263.5,200.7 260.6,198.7 258.4,197.8 252.5,196.7 246.7,197.1 236.9,199.2 229.1,201.6 223.2,204.2 219.3,206.5 207.5,216.3 199.8,221.0 188.1,225.3 174.4,229.1 166.6,230.7 160.8,231.0 156.8,230.7 151.0,229.6 145.1,227.8 137.3,223.8 128.1,216.3 125.6,214.7 121.7,213.5 115.8,214.2 106.1,217.4 90.4,221.4 84.6,224.1 82.6,226.0 81.6,228.0 81.3,231.9 81.7,233.9 83.6,237.8 89.3,245.6 91.7,249.5 101.9,271.0 103.6,276.8 103.5,280.7 102.2,283.9 100.2,286.1 88.5,295.0 74.8,308.7 69.0,312.5 65.1,313.3 63.1,313.0ZM149.0,380.3 145.1,380.7 141.2,380.0 137.3,377.9 135.4,376.1 133.4,373.7 131.5,370.3 124.7,354.9 122.5,349.1 121.7,345.2 121.5,341.3 122.2,335.4 124.3,325.6 124.6,319.8 123.8,313.9 121.9,306.1 121.7,302.2 122.2,300.3 123.6,298.3 127.5,296.5 133.4,295.7 141.2,296.2 147.1,297.9 151.7,300.3 156.3,304.2 161.2,310.0 166.3,317.8 168.8,323.7 169.6,329.5 169.5,335.4 168.2,351.0 166.5,358.8 162.9,366.7 157.7,374.5 154.9,377.3 152.9,378.7Z" fill="#f05223" fill-rule="evenodd"/>
<path d="M63.1,421.3 145.5,421.3 145.7,415.5 146.7,409.6 149.0,403.0 152.3,396.0 152.3,394.0 149.5,392.0 141.2,388.9 137.3,386.8 133.4,383.5 130.2,378.4 125.0,362.8 121.0,353.0 119.4,347.1 119.0,343.2 119.2,339.3 121.6,323.7 121.4,319.8 120.5,315.9 118.3,310.0 112.8,298.3 111.9,296.8 110.0,294.9 108.0,294.1 106.1,293.7 102.2,294.0 98.3,295.1 94.3,297.0 88.5,301.3 74.8,314.7 70.9,318.1 67.0,320.2 65.1,320.5 63.1,320.1ZM375.6,421.3 375.6,317.1 358.0,319.4 344.3,320.3 332.6,319.8 320.9,317.7 313.1,315.3 301.4,310.1 297.5,308.7 279.9,304.7 272.1,302.0 268.2,299.9 263.2,296.3 259.5,292.4 257.3,288.5 256.2,284.6 256.0,282.7 256.5,278.8 257.6,274.9 261.1,267.1 262.2,263.1 262.3,259.2 260.5,249.5 261.2,245.6 263.8,241.7 265.6,239.7 277.2,229.9 280.0,226.0 280.4,224.1 279.9,221.6 277.9,219.1 274.4,216.3 262.3,208.6 258.4,206.5 252.5,204.9 246.7,204.9 238.9,206.5 233.7,208.5 230.3,210.4 227.8,212.4 224.5,216.3 219.3,226.0 217.4,228.7 215.4,230.1 213.5,231.0 209.6,231.8 190.1,233.9 170.5,237.5 162.7,237.8 154.9,236.9 145.1,234.6 133.4,230.8 119.7,225.4 115.8,224.6 110.0,224.7 102.2,226.0 97.5,228.0 95.6,229.9 95.0,231.9 95.3,233.9 96.1,235.8 101.1,243.6 103.1,247.5 110.9,267.1 115.5,282.7 117.8,286.0 119.7,287.1 123.6,288.0 147.1,289.4 152.9,290.7 156.8,292.2 160.8,294.8 164.0,298.3 176.2,313.9 178.6,317.8 180.0,321.7 180.3,325.6 177.2,343.2 177.9,354.9 177.5,358.8 175.6,362.8 168.6,371.1 163.8,378.4 158.0,390.1 157.9,392.0 160.5,394.0 178.3,400.9 184.2,404.1 186.1,405.8 189.3,409.6 191.4,413.5 194.6,421.3ZM231.1,252.4 229.5,249.5 229.2,247.5 229.7,245.6 231.1,244.2 233.0,243.6 235.0,243.8 238.9,245.6 240.1,247.5 240.3,249.5 238.9,252.5 236.9,253.9 235.0,254.3 233.0,253.9Z" fill="#ef3a24" fill-rule="evenodd"/>
<path d="M63.1,421.3 110.5,421.3 116.4,415.5 117.3,413.5 117.1,409.6 115.7,401.8 115.7,396.0 116.7,392.0 121.7,381.4 122.8,376.4 123.0,372.5 122.0,364.7 117.8,353.0 116.5,347.1 116.4,341.3 118.5,327.6 118.5,321.7 117.7,317.8 116.1,313.9 111.9,306.7 108.0,302.3 106.1,301.0 104.1,300.3 100.2,300.1 96.3,301.3 92.4,303.6 87.0,308.1 79.7,315.9 75.1,321.7 69.0,333.0 67.0,333.6 65.1,332.3 63.1,330.2ZM120.7,417.4 120.9,421.3 141.2,421.3 139.3,417.4 137.3,414.7 135.4,412.9 131.5,411.3 127.5,411.3 123.6,413.0 121.2,415.5ZM175.0,386.2 176.4,388.2 180.3,390.7 184.6,392.0 195.9,393.6 197.9,395.2 198.9,397.9 202.2,411.6 206.3,421.3 375.6,421.3 375.6,320.0 358.0,322.0 348.2,322.6 338.5,322.5 328.7,321.5 322.8,320.4 315.0,318.5 309.2,316.3 299.6,312.0 293.7,310.0 279.9,307.2 274.0,305.5 268.2,303.1 262.9,300.3 255.2,294.4 251.8,290.5 249.4,286.6 246.3,276.8 244.7,275.5 242.8,275.7 233.0,280.1 227.7,284.6 212.8,302.2 201.8,317.0 199.3,321.7 197.9,327.2 197.5,331.5 197.9,335.4 199.5,343.2 199.9,347.1 200.1,370.6 200.6,374.5 201.8,376.7 202.8,380.3 203.0,382.3 201.8,385.0 199.8,382.3 199.2,378.4 198.2,376.4 195.3,374.5 192.0,373.8 188.1,373.7 182.2,374.8 178.8,376.4 176.5,378.4 175.2,380.3 174.5,382.3 174.4,384.2ZM116.2,245.6 116.3,249.5 117.7,255.3 123.6,269.8 125.6,273.3 127.5,275.5 129.7,276.8 133.4,277.9 139.3,278.1 149.0,277.1 154.9,275.9 158.8,274.5 161.6,272.9 164.7,269.9 166.3,267.1 167.8,261.2 167.4,257.3 166.7,255.3 165.5,253.4 163.5,251.4 160.5,249.5 156.2,247.5 138.7,241.7 127.5,239.6 123.6,239.6 119.7,240.6 117.8,242.0 116.7,243.6ZM238.4,224.1 239.8,228.0 243.3,231.9 248.6,235.6 252.5,237.0 254.5,237.2 256.4,237.0 260.4,235.6 266.0,231.9 270.1,228.0 271.0,226.0 271.1,224.1 270.2,222.1 268.5,220.2 264.3,217.3 258.4,214.6 252.5,213.5 246.7,214.2 242.3,216.3 240.3,218.2 239.1,220.2 238.5,222.1Z" fill="#ec2228" fill-rule="evenodd"/>
<path d="M224.7,421.3 375.6,421.3 375.6,323.7 361.9,325.3 350.2,325.9 338.5,325.4 330.7,324.5 320.9,322.6 313.1,320.7 307.2,318.6 295.5,313.6 289.6,312.0 274.0,308.8 256.4,302.0 252.5,300.8 246.7,300.4 244.7,300.8 240.8,302.8 235.0,307.3 230.6,312.0 224.2,321.7 222.4,325.6 222.0,327.6 222.2,331.5 224.1,335.4 228.0,341.3 228.8,343.2 228.8,345.2 228.4,347.1 223.5,358.8 222.5,362.8 221.9,368.6 222.4,407.7 223.2,416.2ZM70.9,376.1 72.9,376.5 76.8,376.2 86.8,372.5 92.4,371.5 98.3,371.6 106.1,372.4 110.0,372.3 111.9,371.7 113.7,370.6 115.1,368.6 115.9,366.7 115.9,362.8 113.8,353.0 113.4,347.1 113.7,341.3 115.8,327.6 115.5,321.7 113.9,316.8 111.2,312.0 108.0,308.2 104.1,305.6 102.2,305.0 98.3,305.3 96.2,306.1 92.4,308.5 88.5,311.9 84.9,315.9 82.0,319.8 79.8,323.7 78.6,327.6 78.2,331.5 79.3,345.2 79.1,349.1 78.5,353.0 76.9,356.9 75.3,358.8 69.0,363.2 67.3,364.7 66.5,366.7 66.6,370.6 67.2,372.5 69.0,374.9Z" fill="#dc2026" fill-rule="evenodd"/>
<path d="M232.8,407.7 235.0,412.2 236.9,414.3 238.9,415.6 242.8,416.9 254.5,419.1 258.4,421.3 356.0,421.3 367.8,419.2 371.7,417.7 373.6,416.1 375.6,412.1 375.6,401.8 374.0,394.0 370.7,382.3 369.0,368.6 367.8,364.4 365.3,360.8 361.9,358.3 356.0,355.4 345.4,351.0 341.4,349.1 338.6,347.1 337.0,345.2 336.6,343.2 337.4,341.3 340.3,337.4 341.3,335.4 340.7,333.5 337.7,331.5 332.5,329.5 309.2,323.1 291.6,316.5 276.0,313.5 260.4,309.3 254.5,308.9 248.6,310.5 244.7,312.7 240.8,315.7 234.7,321.7 232.3,325.6 231.9,327.6 231.9,329.5 232.6,331.5 233.9,333.5 236.9,336.3 243.2,341.3 245.0,343.2 245.8,345.2 245.7,347.1 244.8,349.1 236.9,356.9 235.0,359.4 233.1,362.8 231.9,366.7 231.0,374.5 230.9,392.0 231.6,401.8ZM102.2,358.9 104.1,358.5 106.1,357.4 108.0,354.5 109.4,349.1 112.3,333.5 112.9,325.6 111.7,319.8 110.0,316.3 108.3,313.9 106.1,311.7 104.1,310.4 102.2,309.7 100.2,309.6 98.0,310.0 94.3,311.9 91.9,313.9 88.4,317.8 84.9,323.7 83.9,327.6 83.6,331.5 84.3,337.4 85.7,343.2 87.7,349.1 90.0,353.0 92.4,355.6 96.3,357.9 100.2,358.8Z" fill="#c31f25" fill-rule="evenodd"/>
<path d="M362.8,407.7 364.0,405.7 364.4,403.8 364.0,399.9 362.5,396.0 356.7,384.2 353.9,374.5 352.1,370.5 349.0,366.7 344.3,363.4 338.8,360.8 322.8,354.8 318.9,352.8 314.1,349.1 311.6,345.2 311.3,343.2 311.6,341.3 314.6,335.4 314.4,333.5 312.7,331.5 305.3,327.6 296.5,323.7 289.6,321.2 281.8,319.3 262.3,316.1 256.4,316.4 250.6,318.3 244.7,321.7 242.5,323.7 241.0,325.6 240.4,327.6 240.5,329.5 241.6,331.5 244.7,334.3 252.9,339.3 255.3,341.3 256.8,343.2 257.9,347.1 257.4,351.0 255.6,354.9 252.5,358.4 244.5,364.7 241.6,368.6 240.1,372.5 239.3,376.4 238.9,382.3 238.9,388.1 239.4,394.0 241.0,399.9 242.8,402.7 244.7,404.5 248.6,406.4 258.4,408.8 264.3,411.2 270.8,415.5 277.9,421.3 317.0,421.3 315.9,419.4 318.4,417.4 326.0,413.5 334.6,410.3 340.4,409.4 352.1,410.4 356.0,410.4 360.0,409.6ZM100.2,349.8 102.2,349.3 104.1,347.7 106.1,344.5 108.9,335.4 109.9,327.6 108.8,321.7 106.6,317.8 104.1,315.4 102.2,314.6 100.2,314.4 98.3,314.8 96.3,315.7 92.1,319.8 89.8,323.7 88.6,329.5 88.8,333.5 89.6,337.4 92.4,344.1 94.3,346.8 96.3,348.5 98.3,349.5Z" fill="#a81d21" fill-rule="evenodd"/>
<path d="M334.1,396.0 337.1,392.0 338.1,390.1 339.3,386.2 339.3,380.3 338.2,376.4 337.2,374.5 334.0,370.6 328.7,367.0 322.8,364.6 309.2,360.2 305.3,358.3 301.4,355.1 298.5,351.0 296.1,345.2 295.2,341.3 295.2,333.5 294.6,331.5 293.2,329.5 289.6,327.0 283.8,324.5 277.9,323.1 270.1,322.0 264.3,321.7 258.4,322.3 254.0,323.7 251.0,325.6 249.7,327.6 249.8,329.5 251.2,331.5 259.9,337.4 262.3,339.3 263.9,341.3 264.9,343.2 265.6,347.1 264.6,354.9 262.4,360.8 259.5,364.7 251.3,372.5 249.9,374.5 248.2,378.4 247.4,382.3 247.8,388.1 249.2,392.0 250.4,394.0 252.3,396.0 255.2,397.9 277.9,407.3 283.8,408.8 289.6,409.2 305.3,408.1 317.0,405.9 320.9,404.5 326.5,401.8 330.7,399.0ZM100.2,340.8 102.2,339.9 104.1,337.3 105.4,333.5 106.1,329.5 105.7,325.6 104.1,322.1 102.2,320.6 100.2,320.2 98.3,320.9 95.5,323.7 94.3,326.2 93.8,329.5 94.1,333.5 95.6,337.4 98.3,340.3Z" fill="#931a1d" fill-rule="evenodd"/>
<path d="M323.4,394.0 326.8,390.1 327.9,388.1 328.9,384.2 328.6,380.3 326.5,376.4 322.8,373.2 318.9,371.2 315.0,370.0 299.4,366.7 295.5,364.8 293.0,362.8 291.4,360.8 289.2,356.9 284.8,345.2 283.8,341.3 284.3,333.5 283.4,331.5 281.1,329.5 276.0,327.7 270.1,327.1 265.0,327.6 262.4,329.5 263.1,331.5 272.5,339.3 273.8,341.3 274.5,345.2 273.0,356.9 271.4,362.8 268.2,368.3 261.2,376.4 258.9,380.3 258.4,382.3 258.5,384.2 259.1,386.2 260.4,388.1 264.3,391.1 272.1,394.3 283.8,397.5 295.5,399.3 305.3,399.7 313.1,398.9 318.9,396.9Z" fill="#8b1a1c" fill-rule="evenodd"/>
<polygon points="356.1,80.1 374.7,70.2 377.9,70.2 377.9,111.2 375.6,111.2 367.7,103.9 352.3,100.0 351.6,94.3 354.8,93.6 358.7,96.2" fill="#fff"/>
<polygon points="131.2,69.1 121.7,76.5 117.0,84.8 121.7,88.5 127.0,97.4 127.0,104.7 132.2,108.9 136.4,113.1 143.7,105.8 147.9,102.1 154.7,95.3 165.7,93.7 178.3,84.3 214.9,84.8 221.2,78.6 228.5,73.8 232.7,70.2 232.7,69.1" fill="#fff"/>
<polygon points="62.2,167.2 77.4,153.6 106.7,153.6 115.4,162.3 155.7,162.8 163.3,170.4 168.7,171.5 165.4,183.5 163.3,191.1 155.7,194.3 136.1,192.2 127.4,202.0 107.8,202.0 91.5,220.4 86.1,224.8 79.6,231.3 66.5,231.3 62.2,236.2" fill="#fff"/>
<polygon points="232.8,69.9 244.4,85.3 249.5,84.6 257.2,85.3 268.8,96.8 272.6,96.2 263.0,108.4 263.7,113.5 254.0,124.4 252.7,132.8 254.7,144.3 272.0,161.7 284.2,153.3 293.2,154.0 303.5,163.6 312.5,163.0 322.7,172.6 322.1,180.3 315.0,181.6 302.2,192.5 302.2,196.0 348.4,196.0 348.4,69.9" fill="#fff"/>
<polygon points="319.8,178.8 309.1,184.7 302.0,193.0 304.4,199.0 310.3,200.2 312.7,209.6 319.2,216.7 322.2,225.0 312.1,241.0 312.1,249.9 293.1,269.5 293.1,279.6 302.0,289.1 311.5,289.6 321.6,298.5 331.6,298.5 340.5,290.2 351.8,289.6 361.3,280.2 376.7,280.2 376.7,178.8" fill="#fff"/>
<polygon points="62.1,287.2 74.3,295.8 87.2,308.7 87.9,318.0 97.2,328.7 97.5,339.5 106.6,348.8 101.5,355.2 116.6,367.4 127.3,378.9 138.1,391.0 135.9,403.2 127.3,407.5 135.9,417.5 135.5,422.6 62.1,422.6" fill="#fff"/>
<polygon points="302.4,329.0 312.7,319.1 323.6,319.1 334.8,325.0 323.6,338.3 312.7,338.3" fill="#fff"/>
<linearGradient id="trg" x1="0" x2="1" y1="0" y2="0"><stop offset="0" stop-color="#86c78e"/><stop offset="1" stop-color="#6ec4b4"/></linearGradient>
<polygon points="361.3,85.3 377.3,73.7 377.3,107.7 361.3,100.7" fill="url(#trg)"/>
<line x1="141.2" y1="69.8" x2="141.2" y2="421.3" stroke="#555" stroke-opacity="0.10" stroke-width="0.7"/>
<line x1="219.3" y1="69.8" x2="219.3" y2="421.3" stroke="#555" stroke-opacity="0.10" stroke-width="0.7"/>
<line x1="297.5" y1="69.8" x2="297.5" y2="421.3" stroke="#555" stroke-opacity="0.10" stroke-width="0.7"/>
<line x1="63.1" y1="382.3" x2="375.6" y2="382.3" stroke="#555" stroke-opacity="0.10" stroke-width="0.7"/>
<line x1="63.1" y1="304.2" x2="375.6" y2="304.2" stroke="#555" stroke-opacity="0.10" stroke-width="0.7"/>
<line x1="63.1" y1="226.0" x2="375.6" y2="226.0" stroke="#555" stroke-opacity="0.10" stroke-width="0.7"/>
<line x1="63.1" y1="147.9" x2="375.6" y2="147.9" stroke="#555" stroke-opacity="0.10" stroke-width="0.7"/>
<polygon points="135.3,69.1 133.3,72.3 121.7,77.5 120.7,80.7 122.8,88.0 120.7,88.5 120.2,91.6 122.8,94.3 127.0,94.8 138.5,93.4 127.0,97.4 126.5,99.0 127.0,104.7 117.6,107.9 116.5,106.3 114.4,108.9 106.6,112.0 108.7,113.6 107.6,119.4 114.4,116.2 128.5,114.1 125.4,111.0 128.5,107.3 131.2,107.9 133.3,106.3 134.8,108.9 136.9,110.0 135.3,106.3 142.7,105.6 143.7,103.1 146.9,102.6 144.8,101.1 151.0,96.3 154.2,93.7 158.9,91.6 161.0,88.0 163.1,90.6 167.8,88.5 178.3,83.3 189.2,81.2 188.7,79.1 191.9,76.5 196.0,77.0 197.1,79.1 202.3,77.0 204.9,72.3 206.5,75.9 210.7,74.9 214.9,75.9 227.4,72.8 229.5,74.4 228.5,77.5 231.6,74.4 232.7,70.7 237.9,74.4 244.2,75.9 244.2,69.1" fill="#888" stroke="#111" stroke-width="0.9" stroke-linejoin="round"/>
<polygon points="112.3,93.4 113.9,91.6 117.0,90.9 117.8,92.2 116.0,92.7 117.3,93.4 116.5,94.8 115.3,93.4 113.6,94.0" fill="#888" stroke="#111" stroke-width="0.9" stroke-linejoin="round"/>
<polygon points="62.2,169.3 74.1,163.4 72.0,160.1 91.5,154.7 99.1,155.2 114.3,165.5 116.5,162.8 118.7,163.4 117.1,165.0 123.0,169.9 140.4,169.9 145.9,165.5 147.5,171.0 164.3,171.5 168.7,171.5 164.3,172.6 162.2,174.8 164.9,179.1 162.2,181.8 157.8,182.9 157.3,186.2 162.7,185.1 161.6,190.5 160.0,188.9 155.7,193.3 148.6,193.3 150.2,190.5 147.0,190.0 149.7,185.7 145.9,188.4 142.6,190.5 140.4,187.3 138.3,187.8 139.9,190.0 126.8,194.9 125.2,196.5 120.9,193.8 119.8,196.5 116.5,198.7 108.4,199.2 101.3,203.6 97.5,200.9 93.7,203.0 99.1,205.2 97.5,209.0 92.6,209.6 91.0,212.3 93.2,215.0 89.3,215.0 88.8,216.6 91.0,219.9 89.3,222.1 76.3,223.7 75.8,216.1 74.7,218.8 68.2,219.3 67.1,222.1 69.2,223.7 72.0,224.2 70.9,226.4 74.1,226.4 73.6,227.5 69.8,227.0 66.0,230.2 62.2,235.1" fill="#888" stroke="#111" stroke-width="0.9" stroke-linejoin="round"/>
<polygon points="233.0,66.0 232.8,71.1 236.7,77.6 241.2,76.9 245.0,85.3 248.9,78.8 256.0,82.7 264.9,87.2 268.2,85.3 271.4,90.4 280.4,83.3 272.6,91.7 276.5,93.6 263.0,113.5 276.5,118.0 281.6,122.5 275.2,119.3 270.1,122.5 263.7,121.2 258.5,127.6 254.7,125.1 256.6,128.9 253.4,134.1 254.0,139.2 245.7,143.0 254.7,144.3 259.8,149.5 264.3,146.3 268.2,146.3 264.9,150.8 268.8,154.6 273.3,152.0 276.5,154.6 271.4,158.5 273.9,160.4 281.6,155.9 282.9,150.8 281.0,147.5 286.8,148.2 291.9,152.0 297.0,154.6 303.5,153.3 312.5,150.8 318.9,157.2 326.6,154.0 322.7,159.7 333.0,165.5 322.7,161.7 321.4,167.4 331.7,176.4 324.0,178.4 326.6,184.8 317.6,184.8 322.2,180.0 328.7,180.6 326.9,185.9 335.8,188.9 331.6,195.4 328.7,188.9 322.2,188.3 318.0,185.3 320.4,190.1 315.0,191.9 313.9,187.7 310.3,193.0 305.6,191.3 302.6,196.6 305.6,197.8 309.1,195.4 312.1,208.4 310.3,199.0 315.6,197.2 317.4,201.3 318.6,208.4 316.8,209.6 319.8,217.9 317.4,220.9 323.3,224.5 332.2,220.9 328.1,225.6 322.2,229.2 329.3,229.8 325.7,233.3 326.9,235.1 315.6,241.0 317.4,242.8 323.9,241.6 324.5,244.0 316.8,245.8 315.6,251.1 312.1,252.9 310.9,257.1 314.5,261.8 307.9,260.6 312.1,264.2 310.3,267.7 314.5,265.3 313.3,273.6 318.6,266.5 319.8,271.9 323.9,271.9 316.2,274.8 321.0,279.0 316.8,279.6 315.0,281.9 310.9,281.4 309.7,274.8 308.5,280.2 314.5,284.3 318.6,281.9 315.6,286.7 318.0,292.0 326.3,286.7 328.1,280.8 329.9,286.1 335.2,285.5 335.8,280.8 344.1,277.8 348.8,274.8 341.7,281.9 345.9,281.4 349.4,286.1 353.0,283.1 351.8,279.6 355.3,280.8 351.8,272.5 358.3,271.3 362.5,278.4 360.1,267.7 367.8,280.8 368.4,271.3 364.2,268.9 368.4,265.3 373.7,264.8 376.7,265.3 380.0,265.0 377.9,111.2 375.6,111.2 367.7,103.9 352.3,100.0 351.6,94.3 354.8,93.6 358.7,96.2 356.1,80.1 374.7,70.2 377.9,68.6 380.0,60.0 233.0,60.0" fill="#888" stroke="#111" stroke-width="0.9" stroke-linejoin="round"/>
<polygon points="62.1,287.9 73.6,292.9 76.5,301.5 80.8,312.2 80.1,313.7 82.9,315.8 86.5,323.0 85.8,328.7 98.7,347.3 95.8,351.6 99.4,354.5 96.5,358.1 115.2,366.7 118.0,376.0 131.6,381.7 137.4,391.0 134.5,393.9 117.3,388.2 108.7,390.3 105.8,388.9 99.4,390.3 93.7,382.4 92.2,378.9 90.8,381.0 81.5,378.9 70.7,385.3 68.6,383.9 62.1,383.2" fill="#888" stroke="#111" stroke-width="0.9" stroke-linejoin="round"/>
<polygon points="108.0,391.0 115.9,388.9 135.9,398.9 135.9,401.8 123.0,399.6" fill="#888" stroke="#111" stroke-width="0.9" stroke-linejoin="round"/>
<polygon points="62.1,386.0 68.6,386.7 81.5,381.0 90.8,383.2 94.4,391.0 105.8,393.9 113.0,398.9 126.6,406.8 131.6,413.2 135.5,422.6 77.9,422.6 86.5,417.5 85.1,415.4 77.2,419.7 76.5,419.0 79.3,413.2 75.8,410.4 77.2,405.4 72.9,406.1 70.0,401.1 62.1,403.5" fill="#888" stroke="#111" stroke-width="0.9" stroke-linejoin="round"/>
<polygon points="303.8,329.0 308.7,324.0 326.5,321.1 334.4,325.0 328.5,331.9 310.7,334.9" fill="#888" stroke="#111" stroke-width="0.9" stroke-linejoin="round"/>
<line x1="141.2" y1="69.8" x2="141.2" y2="421.3" stroke="#444" stroke-opacity="0.12" stroke-width="0.7"/>
<line x1="219.3" y1="69.8" x2="219.3" y2="421.3" stroke="#444" stroke-opacity="0.12" stroke-width="0.7"/>
<line x1="297.5" y1="69.8" x2="297.5" y2="421.3" stroke="#444" stroke-opacity="0.12" stroke-width="0.7"/>
<line x1="63.1" y1="382.3" x2="375.6" y2="382.3" stroke="#444" stroke-opacity="0.12" stroke-width="0.7"/>
<line x1="63.1" y1="304.2" x2="375.6" y2="304.2" stroke="#444" stroke-opacity="0.12" stroke-width="0.7"/>
<line x1="63.1" y1="226.0" x2="375.6" y2="226.0" stroke="#444" stroke-opacity="0.12" stroke-width="0.7"/>
<line x1="63.1" y1="147.9" x2="375.6" y2="147.9" stroke="#444" stroke-opacity="0.12" stroke-width="0.7"/>
<rect x="231.2" y="183" width="39.2" height="155.8" fill="none" stroke="#000" stroke-width="2.1"/>
<line x1="231.2" y1="265.8" x2="270.4" y2="265.8" stroke="#000" stroke-width="2.9"/>
<circle cx="235.1" cy="189.9" r="3.3" fill="#8ac86c" stroke="#000" stroke-opacity="0.65" stroke-width="0.8"/>
<circle cx="242.8" cy="189.9" r="3.3" fill="#c5da30" stroke="#000" stroke-opacity="0.65" stroke-width="0.8"/>
<circle cx="250.6" cy="189.9" r="3.3" fill="#aed23c" stroke="#000" stroke-opacity="0.65" stroke-width="0.8"/>
<circle cx="258.4" cy="189.9" r="3.3" fill="#dee326" stroke="#000" stroke-opacity="0.65" stroke-width="0.8"/>
<circle cx="266.2" cy="189.9" r="3.3" fill="#f68520" stroke="#000" stroke-opacity="0.65" stroke-width="0.8"/>
<circle cx="274.0" cy="189.9" r="3.3" fill="#9acc52" stroke="#000" stroke-opacity="0.65" stroke-width="0.8"/>
<circle cx="281.7" cy="189.9" r="3.3" fill="#242c82" stroke="#000" stroke-opacity="0.65" stroke-width="0.8"/>
<circle cx="297.3" cy="189.9" r="3.3" fill="#242c82" stroke="#000" stroke-opacity="0.65" stroke-width="0.8"/>
<circle cx="235.1" cy="213.2" r="3.3" fill="#ffd008" stroke="#000" stroke-opacity="0.65" stroke-width="0.8"/>
<circle cx="242.8" cy="213.2" r="3.3" fill="#f99e1c" stroke="#000" stroke-opacity="0.65" stroke-width="0.8"/>
<circle cx="250.6" cy="213.2" r="3.3" fill="#ffd008" stroke="#000" stroke-opacity="0.65" stroke-width="0.8"/>
<circle cx="258.4" cy="213.2" r="3.3" fill="#fdb816" stroke="#000" stroke-opacity="0.65" stroke-width="0.8"/>
<circle cx="266.2" cy="213.2" r="3.3" fill="#ffd008" stroke="#000" stroke-opacity="0.65" stroke-width="0.8"/>
<circle cx="274.0" cy="213.2" r="3.3" fill="#f7e616" stroke="#000" stroke-opacity="0.65" stroke-width="0.8"/>
<circle cx="281.7" cy="213.2" r="3.3" fill="#c5da30" stroke="#000" stroke-opacity="0.65" stroke-width="0.8"/>
<circle cx="289.5" cy="213.2" r="3.3" fill="#9acc52" stroke="#000" stroke-opacity="0.65" stroke-width="0.8"/>
<circle cx="297.3" cy="213.2" r="3.3" fill="#3a5caa" stroke="#000" stroke-opacity="0.65" stroke-width="0.8"/>
<circle cx="305.3" cy="213.2" r="3.3" fill="#3c66b1" stroke="#000" stroke-opacity="0.65" stroke-width="0.8"/>
<circle cx="235.1" cy="231.7" r="3.3" fill="#f05223" stroke="#000" stroke-opacity="0.65" stroke-width="0.8"/>
<circle cx="242.8" cy="231.7" r="3.3" fill="#ec2228" stroke="#000" stroke-opacity="0.65" stroke-width="0.8"/>
<circle cx="250.6" cy="231.7" r="3.3" fill="#f05223" stroke="#000" stroke-opacity="0.65" stroke-width="0.8"/>
<circle cx="258.4" cy="231.7" r="3.3" fill="#ec2228" stroke="#000" stroke-opacity="0.65" stroke-width="0.8"/>
<circle cx="266.2" cy="231.7" r="3.3" fill="#ec2228" stroke="#000" stroke-opacity="0.65" stroke-width="0.8"/>
<circle cx="274.0" cy="231.7" r="3.3" fill="#f05223" stroke="#000" stroke-opacity="0.65" stroke-width="0.8"/>
<circle cx="281.7" cy="231.7" r="3.3" fill="#f99e1c" stroke="#000" stroke-opacity="0.65" stroke-width="0.8"/>
<circle cx="289.5" cy="231.7" r="3.3" fill="#f68520" stroke="#000" stroke-opacity="0.65" stroke-width="0.8"/>
<circle cx="297.3" cy="231.7" r="3.3" fill="#dee326" stroke="#000" stroke-opacity="0.65" stroke-width="0.8"/>
<circle cx="305.3" cy="231.7" r="3.3" fill="#f99e1c" stroke="#000" stroke-opacity="0.65" stroke-width="0.8"/>
<circle cx="235.1" cy="252.0" r="3.3" fill="#f68520" stroke="#000" stroke-opacity="0.65" stroke-width="0.8"/>
<circle cx="242.8" cy="252.0" r="3.3" fill="#ef3a24" stroke="#000" stroke-opacity="0.65" stroke-width="0.8"/>
<circle cx="250.6" cy="252.0" r="3.3" fill="#ec2228" stroke="#000" stroke-opacity="0.65" stroke-width="0.8"/>
<circle cx="258.4" cy="252.0" r="3.3" fill="#f99e1c" stroke="#000" stroke-opacity="0.65" stroke-width="0.8"/>
<circle cx="266.2" cy="252.0" r="3.3" fill="#f05223" stroke="#000" stroke-opacity="0.65" stroke-width="0.8"/>
<circle cx="274.0" cy="252.0" r="3.3" fill="#5fc6d4" stroke="#000" stroke-opacity="0.65" stroke-width="0.8"/>
<circle cx="281.7" cy="252.0" r="3.3" fill="#9acc52" stroke="#000" stroke-opacity="0.65" stroke-width="0.8"/>
<circle cx="289.5" cy="252.0" r="3.3" fill="#3c66b1" stroke="#000" stroke-opacity="0.65" stroke-width="0.8"/>
<circle cx="235.1" cy="276.1" r="3.3" fill="#ef3a24" stroke="#000" stroke-opacity="0.65" stroke-width="0.8"/>
<circle cx="242.8" cy="276.1" r="3.3" fill="#ec2228" stroke="#000" stroke-opacity="0.65" stroke-width="0.8"/>
<circle cx="250.6" cy="276.1" r="3.3" fill="#ef3a24" stroke="#000" stroke-opacity="0.65" stroke-width="0.8"/>
<circle cx="258.4" cy="276.1" r="3.3" fill="#f05223" stroke="#000" stroke-opacity="0.65" stroke-width="0.8"/>
<circle cx="270.3" cy="276.1" r="3.3" fill="#242c82" stroke="#000" stroke-opacity="0.65" stroke-width="0.8"/>
<circle cx="278.0" cy="276.1" r="3.3" fill="#28348a" stroke="#000" stroke-opacity="0.65" stroke-width="0.8"/>
<circle cx="285.8" cy="276.1" r="3.3" fill="#242c82" stroke="#000" stroke-opacity="0.65" stroke-width="0.8"/>
<circle cx="235.1" cy="301.0" r="3.3" fill="#a81d21" stroke="#000" stroke-opacity="0.65" stroke-width="0.8"/>
<circle cx="242.8" cy="301.0" r="3.3" fill="#c31f25" stroke="#000" stroke-opacity="0.65" stroke-width="0.8"/>
<circle cx="250.6" cy="301.0" r="3.3" fill="#dc2026" stroke="#000" stroke-opacity="0.65" stroke-width="0.8"/>
<circle cx="258.4" cy="301.0" r="3.3" fill="#f05223" stroke="#000" stroke-opacity="0.65" stroke-width="0.8"/>
<circle cx="270.3" cy="301.6" r="3.3" fill="#ef3a24" stroke="#000" stroke-opacity="0.65" stroke-width="0.8"/>
<circle cx="278.0" cy="302.4" r="3.3" fill="#f05223" stroke="#000" stroke-opacity="0.65" stroke-width="0.8"/>
<circle cx="285.8" cy="303.3" r="3.3" fill="#ec2228" stroke="#000" stroke-opacity="0.65" stroke-width="0.8"/>
<circle cx="293.4" cy="304.2" r="3.3" fill="#ec2228" stroke="#000" stroke-opacity="0.65" stroke-width="0.8"/>
<circle cx="301.2" cy="305.1" r="3.3" fill="#ec2228" stroke="#000" stroke-opacity="0.65" stroke-width="0.8"/>
<circle cx="235.1" cy="327.3" r="3.3" fill="#931a1d" stroke="#000" stroke-opacity="0.65" stroke-width="0.8"/>
<circle cx="242.8" cy="327.3" r="3.3" fill="#931a1d" stroke="#000" stroke-opacity="0.65" stroke-width="0.8"/>
<circle cx="250.6" cy="327.3" r="3.3" fill="#931a1d" stroke="#000" stroke-opacity="0.65" stroke-width="0.8"/>
<circle cx="258.4" cy="327.3" r="3.3" fill="#931a1d" stroke="#000" stroke-opacity="0.65" stroke-width="0.8"/>
<circle cx="266.2" cy="327.3" r="3.3" fill="#931a1d" stroke="#000" stroke-opacity="0.65" stroke-width="0.8"/>
<circle cx="274.0" cy="327.3" r="3.3" fill="#931a1d" stroke="#000" stroke-opacity="0.65" stroke-width="0.8"/>
<circle cx="281.7" cy="327.3" r="3.3" fill="#931a1d" stroke="#000" stroke-opacity="0.65" stroke-width="0.8"/>
<circle cx="289.5" cy="327.3" r="3.3" fill="#931a1d" stroke="#000" stroke-opacity="0.65" stroke-width="0.8"/>
<circle cx="297.3" cy="327.3" r="3.3" fill="#931a1d" stroke="#000" stroke-opacity="0.65" stroke-width="0.8"/>
</g>
<rect x="63.1" y="69.8" width="312.5" height="351.5" fill="none" stroke="#222" stroke-width="1.2"/>
<text x="59.8" y="76.8" font-size="23.2" font-family="'DejaVu Sans','Liberation Sans',sans-serif" fill="#000" text-anchor="end" textLength="57.3" lengthAdjust="spacingAndGlyphs">40°N</text>
<text x="59.8" y="154.9" font-size="23.2" font-family="'DejaVu Sans','Liberation Sans',sans-serif" fill="#000" text-anchor="end" textLength="57.3" lengthAdjust="spacingAndGlyphs">38°N</text>
<text x="59.8" y="233.0" font-size="23.2" font-family="'DejaVu Sans','Liberation Sans',sans-serif" fill="#000" text-anchor="end" textLength="57.3" lengthAdjust="spacingAndGlyphs">36°N</text>
<text x="59.8" y="311.2" font-size="23.2" font-family="'DejaVu Sans','Liberation Sans',sans-serif" fill="#000" text-anchor="end" textLength="57.3" lengthAdjust="spacingAndGlyphs">34°N</text>
<text x="59.8" y="389.3" font-size="23.2" font-family="'DejaVu Sans','Liberation Sans',sans-serif" fill="#000" text-anchor="end" textLength="57.3" lengthAdjust="spacingAndGlyphs">32°N</text>
<text x="62.6" y="442.9" font-size="23.4" font-family="'DejaVu Sans','Liberation Sans',sans-serif" fill="#000" text-anchor="middle" textLength="68.5" lengthAdjust="spacingAndGlyphs">120°E</text>
<text x="140.7" y="442.9" font-size="23.4" font-family="'DejaVu Sans','Liberation Sans',sans-serif" fill="#000" text-anchor="middle" textLength="68.5" lengthAdjust="spacingAndGlyphs">122°E</text>
<text x="218.8" y="442.9" font-size="23.4" font-family="'DejaVu Sans','Liberation Sans',sans-serif" fill="#000" text-anchor="middle" textLength="68.5" lengthAdjust="spacingAndGlyphs">124°E</text>
<text x="297.0" y="442.9" font-size="23.4" font-family="'DejaVu Sans','Liberation Sans',sans-serif" fill="#000" text-anchor="middle" textLength="68.5" lengthAdjust="spacingAndGlyphs">126°E</text>
<text x="375.1" y="442.9" font-size="23.4" font-family="'DejaVu Sans','Liberation Sans',sans-serif" fill="#000" text-anchor="middle" textLength="68.5" lengthAdjust="spacingAndGlyphs">128°E</text>
<text x="107.5" y="57.5" font-size="27.6" font-family="'DejaVu Sans','Liberation Sans',sans-serif" fill="#000" textLength="321.5" lengthAdjust="spacingAndGlyphs">SST during MHW in 2016</text>
<text x="0.3" y="23.8" font-size="29.3" font-family="'Liberation Sans','DejaVu Sans',sans-serif" fill="#000" font-weight="bold">A</text>
<polygon points="400.0,99.4 407.15,83.8 414.3,99.4" fill="#8b1a1c"/>
<polygon points="400.0,394.8 407.15,409.3 414.3,394.8" fill="#21267a"/>
<rect x="400.0" y="99.40" width="14.3" height="9.63" fill="#931a1d"/>
<rect x="400.0" y="108.63" width="14.3" height="9.63" fill="#a81d21"/>
<rect x="400.0" y="117.86" width="14.3" height="9.63" fill="#c31f25"/>
<rect x="400.0" y="127.09" width="14.3" height="9.63" fill="#dc2026"/>
<rect x="400.0" y="136.32" width="14.3" height="9.63" fill="#ec2228"/>
<rect x="400.0" y="145.56" width="14.3" height="9.63" fill="#ef3a24"/>
<rect x="400.0" y="154.79" width="14.3" height="9.63" fill="#f05223"/>
<rect x="400.0" y="164.02" width="14.3" height="9.63" fill="#f36c22"/>
<rect x="400.0" y="173.25" width="14.3" height="9.63" fill="#f68520"/>
<rect x="400.0" y="182.48" width="14.3" height="9.63" fill="#f99e1c"/>
<rect x="400.0" y="191.71" width="14.3" height="9.63" fill="#fdb816"/>
<rect x="400.0" y="200.94" width="14.3" height="9.63" fill="#ffd008"/>
<rect x="400.0" y="210.18" width="14.3" height="9.63" fill="#f7e616"/>
<rect x="400.0" y="219.41" width="14.3" height="9.63" fill="#dee326"/>
<rect x="400.0" y="228.64" width="14.3" height="9.63" fill="#c5da30"/>
<rect x="400.0" y="237.87" width="14.3" height="9.63" fill="#aed23c"/>
<rect x="400.0" y="247.10" width="14.3" height="9.63" fill="#9acc52"/>
<rect x="400.0" y="256.33" width="14.3" height="9.63" fill="#8ac86c"/>
<rect x="400.0" y="265.56" width="14.3" height="9.63" fill="#7ac58a"/>
<rect x="400.0" y="274.79" width="14.3" height="9.63" fill="#6cc4a8"/>
<rect x="400.0" y="284.02" width="14.3" height="9.63" fill="#5fc6d4"/>
<rect x="400.0" y="293.26" width="14.3" height="9.63" fill="#34c0f0"/>
<rect x="400.0" y="302.49" width="14.3" height="9.63" fill="#3aa5de"/>
<rect x="400.0" y="311.72" width="14.3" height="9.63" fill="#4084c6"/>
<rect x="400.0" y="320.95" width="14.3" height="9.63" fill="#3e70b8"/>
<rect x="400.0" y="330.18" width="14.3" height="9.63" fill="#3c66b1"/>
<rect x="400.0" y="339.41" width="14.3" height="9.63" fill="#3a5caa"/>
<rect x="400.0" y="348.64" width="14.3" height="9.63" fill="#3652a2"/>
<rect x="400.0" y="357.88" width="14.3" height="9.63" fill="#32489a"/>
<rect x="400.0" y="367.11" width="14.3" height="9.63" fill="#2d3e92"/>
<rect x="400.0" y="376.34" width="14.3" height="9.63" fill="#28348a"/>
<rect x="400.0" y="385.57" width="14.3" height="9.63" fill="#242c82"/>
<polygon points="400.0,99.4 407.15,83.8 414.3,99.4 414.3,394.8 407.15,409.3 400.0,394.8" fill="none" stroke="#333" stroke-opacity="0.6" stroke-width="0.8"/>
<line x1="414.3" y1="99.4" x2="417.8" y2="99.4" stroke="#000" stroke-width="1.1"/>
<text x="418.5" y="108.6" font-size="23.6" font-family="'DejaVu Sans','Liberation Sans',sans-serif" fill="#000" textLength="50.0" lengthAdjust="spacingAndGlyphs">30.2</text>
<line x1="414.3" y1="136.3" x2="417.8" y2="136.3" stroke="#000" stroke-width="1.1"/>
<text x="418.5" y="145.5" font-size="23.6" font-family="'DejaVu Sans','Liberation Sans',sans-serif" fill="#000" textLength="50.0" lengthAdjust="spacingAndGlyphs">29.4</text>
<line x1="414.3" y1="173.2" x2="417.8" y2="173.2" stroke="#000" stroke-width="1.1"/>
<text x="418.5" y="182.4" font-size="23.6" font-family="'DejaVu Sans','Liberation Sans',sans-serif" fill="#000" textLength="50.0" lengthAdjust="spacingAndGlyphs">28.6</text>
<line x1="414.3" y1="210.2" x2="417.8" y2="210.2" stroke="#000" stroke-width="1.1"/>
<text x="418.5" y="219.4" font-size="23.6" font-family="'DejaVu Sans','Liberation Sans',sans-serif" fill="#000" textLength="50.0" lengthAdjust="spacingAndGlyphs">27.8</text>
<line x1="414.3" y1="247.1" x2="417.8" y2="247.1" stroke="#000" stroke-width="1.1"/>
<text x="418.5" y="256.3" font-size="23.6" font-family="'DejaVu Sans','Liberation Sans',sans-serif" fill="#000" textLength="50.0" lengthAdjust="spacingAndGlyphs">27.0</text>
<line x1="414.3" y1="284.0" x2="417.8" y2="284.0" stroke="#000" stroke-width="1.1"/>
<text x="418.5" y="293.2" font-size="23.6" font-family="'DejaVu Sans','Liberation Sans',sans-serif" fill="#000" textLength="50.0" lengthAdjust="spacingAndGlyphs">26.2</text>
<line x1="414.3" y1="320.9" x2="417.8" y2="320.9" stroke="#000" stroke-width="1.1"/>
<text x="418.5" y="330.1" font-size="23.6" font-family="'DejaVu Sans','Liberation Sans',sans-serif" fill="#000" textLength="50.0" lengthAdjust="spacingAndGlyphs">25.4</text>
<line x1="414.3" y1="357.9" x2="417.8" y2="357.9" stroke="#000" stroke-width="1.1"/>
<text x="418.5" y="367.1" font-size="23.6" font-family="'DejaVu Sans','Liberation Sans',sans-serif" fill="#000" textLength="50.0" lengthAdjust="spacingAndGlyphs">24.6</text>
<line x1="414.3" y1="394.8" x2="417.8" y2="394.8" stroke="#000" stroke-width="1.1"/>
<text x="418.5" y="404.0" font-size="23.6" font-family="'DejaVu Sans','Liberation Sans',sans-serif" fill="#000" textLength="50.0" lengthAdjust="spacingAndGlyphs">23.8</text>
<text x="486.8" y="267.3" font-size="27.2" font-family="'DejaVu Sans','Liberation Sans',sans-serif" fill="#000"><tspan font-size="18.8" dy="-10.5" font-style="italic">o</tspan><tspan dy="10.5" dx="1.2" font-style="italic">C</tspan></text>
</g>
<g id="panelB">
<text x="527.6" y="23.8" font-size="29.3" font-family="'Liberation Sans','DejaVu Sans',sans-serif" fill="#000" font-weight="bold">B</text>
<text x="658.2" y="54.8" font-size="28.4" font-family="'DejaVu Sans','Liberation Sans',sans-serif" fill="#000" textLength="391.0" lengthAdjust="spacingAndGlyphs">Net Heatflux vs SST difference</text>
<rect x="678.0" y="70.9" width="15.1" height="302.9" fill="#d3d3d3"/>
<rect x="854.5" y="70.9" width="15.1" height="302.9" fill="#d3d3d3"/>
<rect x="955.4" y="70.9" width="15.1" height="302.9" fill="#d3d3d3"/>
<rect x="1005.8" y="70.9" width="15.1" height="302.9" fill="#d3d3d3"/>
<rect x="1031.0" y="70.9" width="15.1" height="302.9" fill="#d3d3d3"/>
<rect x="1131.9" y="70.9" width="15.1" height="302.9" fill="#d3d3d3"/>
<rect x="1207.6" y="70.9" width="15.1" height="302.9" fill="#d3d3d3"/>
<rect x="1258.0" y="70.9" width="15.1" height="302.9" fill="#d3d3d3"/>
<rect x="1283.2" y="70.9" width="15.1" height="302.9" fill="#d3d3d3"/>
<rect x="1409.3" y="70.9" width="15.1" height="302.9" fill="#d3d3d3"/>
<rect x="1434.6" y="70.9" width="15.1" height="302.9" fill="#d3d3d3"/>
<rect x="1510.2" y="70.9" width="15.1" height="302.9" fill="#d3d3d3"/>
<rect x="1535.4" y="70.9" width="15.1" height="302.9" fill="#d3d3d3"/>
<rect x="1560.7" y="70.9" width="15.1" height="302.9" fill="#d3d3d3"/>
<line x1="660.3" y1="373.8" x2="660.3" y2="380.6" stroke="#000" stroke-width="1.4"/>
<text x="660.3" y="407.6" font-size="27.8" font-family="'DejaVu Sans','Liberation Sans',sans-serif" fill="#000" text-anchor="middle" textLength="47.0" lengthAdjust="spacingAndGlyphs">1982</text>
<line x1="710.7" y1="373.8" x2="710.7" y2="380.6" stroke="#000" stroke-width="1.4"/>
<text x="710.7" y="407.6" font-size="27.8" font-family="'DejaVu Sans','Liberation Sans',sans-serif" fill="#000" text-anchor="middle" textLength="47.0" lengthAdjust="spacingAndGlyphs">1984</text>
<line x1="761.2" y1="373.8" x2="761.2" y2="380.6" stroke="#000" stroke-width="1.4"/>
<text x="761.2" y="407.6" font-size="27.8" font-family="'DejaVu Sans','Liberation Sans',sans-serif" fill="#000" text-anchor="middle" textLength="47.0" lengthAdjust="spacingAndGlyphs">1986</text>
<line x1="811.6" y1="373.8" x2="811.6" y2="380.6" stroke="#000" stroke-width="1.4"/>
<text x="811.6" y="407.6" font-size="27.8" font-family="'DejaVu Sans','Liberation Sans',sans-serif" fill="#000" text-anchor="middle" textLength="47.0" lengthAdjust="spacingAndGlyphs">1988</text>
<line x1="862.1" y1="373.8" x2="862.1" y2="380.6" stroke="#000" stroke-width="1.4"/>
<text x="862.1" y="407.6" font-size="27.8" font-family="'DejaVu Sans','Liberation Sans',sans-serif" fill="#000" text-anchor="middle" textLength="47.0" lengthAdjust="spacingAndGlyphs">1990</text>
<line x1="912.5" y1="373.8" x2="912.5" y2="380.6" stroke="#000" stroke-width="1.4"/>
<text x="912.5" y="407.6" font-size="27.8" font-family="'DejaVu Sans','Liberation Sans',sans-serif" fill="#000" text-anchor="middle" textLength="47.0" lengthAdjust="spacingAndGlyphs">1992</text>
<line x1="962.9" y1="373.8" x2="962.9" y2="380.6" stroke="#000" stroke-width="1.4"/>
<text x="962.9" y="407.6" font-size="27.8" font-family="'DejaVu Sans','Liberation Sans',sans-serif" fill="#000" text-anchor="middle" textLength="47.0" lengthAdjust="spacingAndGlyphs">1994</text>
<line x1="1013.4" y1="373.8" x2="1013.4" y2="380.6" stroke="#000" stroke-width="1.4"/>
<text x="1013.4" y="407.6" font-size="27.8" font-family="'DejaVu Sans','Liberation Sans',sans-serif" fill="#000" text-anchor="middle" textLength="47.0" lengthAdjust="spacingAndGlyphs">1996</text>
<line x1="1063.8" y1="373.8" x2="1063.8" y2="380.6" stroke="#000" stroke-width="1.4"/>
<text x="1063.8" y="407.6" font-size="27.8" font-family="'DejaVu Sans','Liberation Sans',sans-serif" fill="#000" text-anchor="middle" textLength="47.0" lengthAdjust="spacingAndGlyphs">1998</text>
<line x1="1114.3" y1="373.8" x2="1114.3" y2="380.6" stroke="#000" stroke-width="1.4"/>
<text x="1114.3" y="407.6" font-size="27.8" font-family="'DejaVu Sans','Liberation Sans',sans-serif" fill="#000" text-anchor="middle" textLength="47.0" lengthAdjust="spacingAndGlyphs">2000</text>
<line x1="1164.7" y1="373.8" x2="1164.7" y2="380.6" stroke="#000" stroke-width="1.4"/>
<text x="1164.7" y="407.6" font-size="27.8" font-family="'DejaVu Sans','Liberation Sans',sans-serif" fill="#000" text-anchor="middle" textLength="47.0" lengthAdjust="spacingAndGlyphs">2002</text>
<line x1="1215.1" y1="373.8" x2="1215.1" y2="380.6" stroke="#000" stroke-width="1.4"/>
<text x="1215.1" y="407.6" font-size="27.8" font-family="'DejaVu Sans','Liberation Sans',sans-serif" fill="#000" text-anchor="middle" textLength="47.0" lengthAdjust="spacingAndGlyphs">2004</text>
<line x1="1265.6" y1="373.8" x2="1265.6" y2="380.6" stroke="#000" stroke-width="1.4"/>
<text x="1265.6" y="407.6" font-size="27.8" font-family="'DejaVu Sans','Liberation Sans',sans-serif" fill="#000" text-anchor="middle" textLength="47.0" lengthAdjust="spacingAndGlyphs">2006</text>
<line x1="1316.0" y1="373.8" x2="1316.0" y2="380.6" stroke="#000" stroke-width="1.4"/>
<text x="1316.0" y="407.6" font-size="27.8" font-family="'DejaVu Sans','Liberation Sans',sans-serif" fill="#000" text-anchor="middle" textLength="47.0" lengthAdjust="spacingAndGlyphs">2008</text>
<line x1="1366.5" y1="373.8" x2="1366.5" y2="380.6" stroke="#000" stroke-width="1.4"/>
<text x="1366.5" y="407.6" font-size="27.8" font-family="'DejaVu Sans','Liberation Sans',sans-serif" fill="#000" text-anchor="middle" textLength="47.0" lengthAdjust="spacingAndGlyphs">2010</text>
<line x1="1416.9" y1="373.8" x2="1416.9" y2="380.6" stroke="#000" stroke-width="1.4"/>
<text x="1416.9" y="407.6" font-size="27.8" font-family="'DejaVu Sans','Liberation Sans',sans-serif" fill="#000" text-anchor="middle" textLength="47.0" lengthAdjust="spacingAndGlyphs">2012</text>
<line x1="1467.3" y1="373.8" x2="1467.3" y2="380.6" stroke="#000" stroke-width="1.4"/>
<text x="1467.3" y="407.6" font-size="27.8" font-family="'DejaVu Sans','Liberation Sans',sans-serif" fill="#000" text-anchor="middle" textLength="47.0" lengthAdjust="spacingAndGlyphs">2014</text>
<line x1="1517.8" y1="373.8" x2="1517.8" y2="380.6" stroke="#000" stroke-width="1.4"/>
<text x="1517.8" y="407.6" font-size="27.8" font-family="'DejaVu Sans','Liberation Sans',sans-serif" fill="#000" text-anchor="middle" textLength="47.0" lengthAdjust="spacingAndGlyphs">2016</text>
<line x1="1568.2" y1="373.8" x2="1568.2" y2="380.6" stroke="#000" stroke-width="1.4"/>
<text x="1568.2" y="407.6" font-size="27.8" font-family="'DejaVu Sans','Liberation Sans',sans-serif" fill="#000" text-anchor="middle" textLength="47.0" lengthAdjust="spacingAndGlyphs">2018</text>
<line x1="1618.7" y1="373.8" x2="1618.7" y2="380.6" stroke="#000" stroke-width="1.4"/>
<text x="1618.7" y="407.6" font-size="27.8" font-family="'DejaVu Sans','Liberation Sans',sans-serif" fill="#000" text-anchor="middle" textLength="47.0" lengthAdjust="spacingAndGlyphs">2020</text>
<line x1="608.2" y1="138.0" x2="612.8" y2="138.0" stroke="#000" stroke-width="2"/>
<line x1="1666.3" y1="138.0" x2="1670.9" y2="138.0" stroke="#000" stroke-width="2"/>
<text x="604.5" y="150.0" font-size="30.8" font-family="'DejaVu Sans','Liberation Sans',sans-serif" fill="#000" text-anchor="end" textLength="26.5" lengthAdjust="spacingAndGlyphs">25</text>
<text x="1675.0" y="150.0" font-size="30.8" font-family="'DejaVu Sans','Liberation Sans',sans-serif" fill="#000" textLength="26.5" lengthAdjust="spacingAndGlyphs">25</text>
<line x1="608.2" y1="222.3" x2="612.8" y2="222.3" stroke="#000" stroke-width="2"/>
<line x1="1666.3" y1="222.3" x2="1670.9" y2="222.3" stroke="#000" stroke-width="2"/>
<text x="604.5" y="234.3" font-size="30.8" font-family="'DejaVu Sans','Liberation Sans',sans-serif" fill="#000" text-anchor="end" textLength="13.0" lengthAdjust="spacingAndGlyphs">0</text>
<text x="1675.0" y="234.3" font-size="30.8" font-family="'DejaVu Sans','Liberation Sans',sans-serif" fill="#000" textLength="13.0" lengthAdjust="spacingAndGlyphs">0</text>
<line x1="608.2" y1="306.6" x2="612.8" y2="306.6" stroke="#000" stroke-width="2"/>
<line x1="1666.3" y1="306.6" x2="1670.9" y2="306.6" stroke="#000" stroke-width="2"/>
<text x="604.5" y="318.6" font-size="30.8" font-family="'DejaVu Sans','Liberation Sans',sans-serif" fill="#000" text-anchor="end" textLength="43.5" lengthAdjust="spacingAndGlyphs">−25</text>
<text x="1675.0" y="318.6" font-size="30.8" font-family="'DejaVu Sans','Liberation Sans',sans-serif" fill="#000" textLength="43.5" lengthAdjust="spacingAndGlyphs">−25</text>
<g transform="scale(0.68 1)"><polyline points="971.0,297.5 1008.1,261.1 1045.2,235.8 1082.3,314.7 1119.4,235.1 1156.5,219.6 1193.6,311.0 1230.6,306.3 1267.7,170.4 1304.8,225.7 1341.9,186.2 1379.0,310.0 1416.1,359.2 1453.2,198.7 1490.3,114.4 1527.4,272.5 1564.4,204.8 1601.5,212.9 1638.6,185.2 1675.7,317.1 1712.8,231.1 1749.9,222.6 1787.0,154.9 1824.1,234.1 1861.1,164.6 1898.2,229.4 1935.3,194.0 1972.4,247.3 2009.5,176.4 2046.6,164.0 2083.7,209.1 2120.8,170.4 2157.9,207.5 2194.9,193.6 2232.0,173.4 2269.1,286.7 2306.2,142.7 2343.3,205.1 2380.4,158.2" fill="none" stroke="#ee1c25" stroke-width="3.3" stroke-linejoin="round" stroke-linecap="butt" stroke-dasharray="12 5.4"/></g>
<ellipse cx="660.3" cy="297.5" rx="4.5" ry="6.6" fill="#ee1c25"/><ellipse cx="685.5" cy="261.1" rx="4.5" ry="6.6" fill="#ee1c25"/><ellipse cx="710.7" cy="235.8" rx="4.5" ry="6.6" fill="#ee1c25"/><ellipse cx="736.0" cy="314.7" rx="4.5" ry="6.6" fill="#ee1c25"/><ellipse cx="761.2" cy="235.1" rx="4.5" ry="6.6" fill="#ee1c25"/><ellipse cx="786.4" cy="219.6" rx="4.5" ry="6.6" fill="#ee1c25"/><ellipse cx="811.6" cy="311.0" rx="4.5" ry="6.6" fill="#ee1c25"/><ellipse cx="836.8" cy="306.3" rx="4.5" ry="6.6" fill="#ee1c25"/><ellipse cx="862.1" cy="170.4" rx="4.5" ry="6.6" fill="#ee1c25"/><ellipse cx="887.3" cy="225.7" rx="4.5" ry="6.6" fill="#ee1c25"/><ellipse cx="912.5" cy="186.2" rx="4.5" ry="6.6" fill="#ee1c25"/><ellipse cx="937.7" cy="310.0" rx="4.5" ry="6.6" fill="#ee1c25"/><ellipse cx="962.9" cy="359.2" rx="4.5" ry="6.6" fill="#ee1c25"/><ellipse cx="988.2" cy="198.7" rx="4.5" ry="6.6" fill="#ee1c25"/><ellipse cx="1013.4" cy="114.4" rx="4.5" ry="6.6" fill="#ee1c25"/><ellipse cx="1038.6" cy="272.5" rx="4.5" ry="6.6" fill="#ee1c25"/><ellipse cx="1063.8" cy="204.8" rx="4.5" ry="6.6" fill="#ee1c25"/><ellipse cx="1089.0" cy="212.9" rx="4.5" ry="6.6" fill="#ee1c25"/><ellipse cx="1114.3" cy="185.2" rx="4.5" ry="6.6" fill="#ee1c25"/><ellipse cx="1139.5" cy="317.1" rx="4.5" ry="6.6" fill="#ee1c25"/><ellipse cx="1164.7" cy="231.1" rx="4.5" ry="6.6" fill="#ee1c25"/><ellipse cx="1189.9" cy="222.6" rx="4.5" ry="6.6" fill="#ee1c25"/><ellipse cx="1215.1" cy="154.9" rx="4.5" ry="6.6" fill="#ee1c25"/><ellipse cx="1240.4" cy="234.1" rx="4.5" ry="6.6" fill="#ee1c25"/><ellipse cx="1265.6" cy="164.6" rx="4.5" ry="6.6" fill="#ee1c25"/><ellipse cx="1290.8" cy="229.4" rx="4.5" ry="6.6" fill="#ee1c25"/><ellipse cx="1316.0" cy="194.0" rx="4.5" ry="6.6" fill="#ee1c25"/><ellipse cx="1341.2" cy="247.3" rx="4.5" ry="6.6" fill="#ee1c25"/><ellipse cx="1366.5" cy="176.4" rx="4.5" ry="6.6" fill="#ee1c25"/><ellipse cx="1391.7" cy="164.0" rx="4.5" ry="6.6" fill="#ee1c25"/><ellipse cx="1416.9" cy="209.1" rx="4.5" ry="6.6" fill="#ee1c25"/><ellipse cx="1442.1" cy="170.4" rx="4.5" ry="6.6" fill="#ee1c25"/><ellipse cx="1467.3" cy="207.5" rx="4.5" ry="6.6" fill="#ee1c25"/><ellipse cx="1492.6" cy="193.6" rx="4.5" ry="6.6" fill="#ee1c25"/><ellipse cx="1517.8" cy="173.4" rx="4.5" ry="6.6" fill="#ee1c25"/><ellipse cx="1543.0" cy="286.7" rx="4.5" ry="6.6" fill="#ee1c25"/><ellipse cx="1568.2" cy="142.7" rx="4.5" ry="6.6" fill="#ee1c25"/><ellipse cx="1593.4" cy="205.1" rx="4.5" ry="6.6" fill="#ee1c25"/><ellipse cx="1618.7" cy="158.2" rx="4.5" ry="6.6" fill="#ee1c25"/>
<g transform="scale(0.68 1)"><polyline points="971.0,231.4 1008.1,117.8 1045.2,235.1 1082.3,179.8 1119.4,227.0 1156.5,259.4 1193.6,177.5 1230.6,205.4 1267.7,203.8 1304.8,268.2 1341.9,251.6 1379.0,167.3 1416.1,175.1 1453.2,255.3 1490.3,202.4 1527.4,191.6 1564.4,248.9 1601.5,278.3 1638.6,203.4 1675.7,161.6 1712.8,229.7 1749.9,205.4 1787.0,208.1 1824.1,277.6 1861.1,190.3 1898.2,175.8 1935.3,240.8 1972.4,221.0 2009.5,244.9 2046.6,364.3 2083.7,274.9 2120.8,197.7 2157.9,275.2 2194.9,219.6 2232.0,214.9 2269.1,203.4 2306.2,256.4 2343.3,182.8 2380.4,244.2" fill="none" stroke="#f5a623" stroke-width="3.5" stroke-linejoin="round" stroke-linecap="butt" stroke-dasharray="3.3 5.6"/></g>
<ellipse cx="660.3" cy="231.4" rx="4.5" ry="6.6" fill="#f5a623"/><ellipse cx="685.5" cy="117.8" rx="4.5" ry="6.6" fill="#f5a623"/><ellipse cx="710.7" cy="235.1" rx="4.5" ry="6.6" fill="#f5a623"/><ellipse cx="736.0" cy="179.8" rx="4.5" ry="6.6" fill="#f5a623"/><ellipse cx="761.2" cy="227.0" rx="4.5" ry="6.6" fill="#f5a623"/><ellipse cx="786.4" cy="259.4" rx="4.5" ry="6.6" fill="#f5a623"/><ellipse cx="811.6" cy="177.5" rx="4.5" ry="6.6" fill="#f5a623"/><ellipse cx="836.8" cy="205.4" rx="4.5" ry="6.6" fill="#f5a623"/><ellipse cx="862.1" cy="203.8" rx="4.5" ry="6.6" fill="#f5a623"/><ellipse cx="887.3" cy="268.2" rx="4.5" ry="6.6" fill="#f5a623"/><ellipse cx="912.5" cy="251.6" rx="4.5" ry="6.6" fill="#f5a623"/><ellipse cx="937.7" cy="167.3" rx="4.5" ry="6.6" fill="#f5a623"/><ellipse cx="962.9" cy="175.1" rx="4.5" ry="6.6" fill="#f5a623"/><ellipse cx="988.2" cy="255.3" rx="4.5" ry="6.6" fill="#f5a623"/><ellipse cx="1013.4" cy="202.4" rx="4.5" ry="6.6" fill="#f5a623"/><ellipse cx="1038.6" cy="191.6" rx="4.5" ry="6.6" fill="#f5a623"/><ellipse cx="1063.8" cy="248.9" rx="4.5" ry="6.6" fill="#f5a623"/><ellipse cx="1089.0" cy="278.3" rx="4.5" ry="6.6" fill="#f5a623"/><ellipse cx="1114.3" cy="203.4" rx="4.5" ry="6.6" fill="#f5a623"/><ellipse cx="1139.5" cy="161.6" rx="4.5" ry="6.6" fill="#f5a623"/><ellipse cx="1164.7" cy="229.7" rx="4.5" ry="6.6" fill="#f5a623"/><ellipse cx="1189.9" cy="205.4" rx="4.5" ry="6.6" fill="#f5a623"/><ellipse cx="1215.1" cy="208.1" rx="4.5" ry="6.6" fill="#f5a623"/><ellipse cx="1240.4" cy="277.6" rx="4.5" ry="6.6" fill="#f5a623"/><ellipse cx="1265.6" cy="190.3" rx="4.5" ry="6.6" fill="#f5a623"/><ellipse cx="1290.8" cy="175.8" rx="4.5" ry="6.6" fill="#f5a623"/><ellipse cx="1316.0" cy="240.8" rx="4.5" ry="6.6" fill="#f5a623"/><ellipse cx="1341.2" cy="221.0" rx="4.5" ry="6.6" fill="#f5a623"/><ellipse cx="1366.5" cy="244.9" rx="4.5" ry="6.6" fill="#f5a623"/><ellipse cx="1391.7" cy="364.3" rx="4.5" ry="6.6" fill="#f5a623"/><ellipse cx="1416.9" cy="274.9" rx="4.5" ry="6.6" fill="#f5a623"/><ellipse cx="1442.1" cy="197.7" rx="4.5" ry="6.6" fill="#f5a623"/><ellipse cx="1467.3" cy="275.2" rx="4.5" ry="6.6" fill="#f5a623"/><ellipse cx="1492.6" cy="219.6" rx="4.5" ry="6.6" fill="#f5a623"/><ellipse cx="1517.8" cy="214.9" rx="4.5" ry="6.6" fill="#f5a623"/><ellipse cx="1543.0" cy="203.4" rx="4.5" ry="6.6" fill="#f5a623"/><ellipse cx="1568.2" cy="256.4" rx="4.5" ry="6.6" fill="#f5a623"/><ellipse cx="1593.4" cy="182.8" rx="4.5" ry="6.6" fill="#f5a623"/><ellipse cx="1618.7" cy="244.2" rx="4.5" ry="6.6" fill="#f5a623"/>
<line x1="660.3" y1="203.8" x2="1618.7" y2="241.2" stroke="#fbd914" stroke-width="6" />
<line x1="660.3" y1="267.1" x2="1618.7" y2="179.1" stroke="#ee1c25" stroke-width="4"/>
<line x1="660.3" y1="248.9" x2="1618.7" y2="196.3" stroke="#7b1418" stroke-width="3.7" stroke-dasharray="10.6 5.2"/>
<line x1="612.8" y1="222.3" x2="1666.3" y2="222.3" stroke="#000" stroke-width="3.0" stroke-dasharray="7.3 3.3"/>
<rect x="623.6" y="86.5" width="189.2" height="103.2" rx="4.5" fill="#fff" fill-opacity="0.8" stroke="#ccc" stroke-width="1.4"/>
<line x1="632" y1="112.2" x2="675.5" y2="112.2" stroke="#ee1c25" stroke-width="3.1" stroke-dasharray="11.5 5"/>
<ellipse cx="653.7" cy="112.2" rx="4.5" ry="6.6" fill="#ee1c25"/>
<line x1="632" y1="158.4" x2="675.5" y2="158.4" stroke="#f5a623" stroke-width="2.8" stroke-dasharray="2.8 4.6"/>
<ellipse cx="653.7" cy="158.4" rx="4.5" ry="6.6" fill="#f5a623"/>
<text x="692.5" y="123.3" font-size="30.5" font-family="'DejaVu Sans','Liberation Sans',sans-serif" fill="#000" textLength="52.5" lengthAdjust="spacingAndGlyphs">Qnet</text>
<text x="692.5" y="169.6" font-size="30.5" font-family="'DejaVu Sans','Liberation Sans',sans-serif" fill="#000" textLength="112.0" lengthAdjust="spacingAndGlyphs">dSST-Qnet</text>
<g transform="scale(0.68 1)"><polyline points="971.0,306.9 1008.1,156.9 1045.2,248.9 1082.3,271.5 1119.4,236.1 1156.5,257.4 1193.6,264.4 1230.6,287.0 1267.7,152.2 1304.8,271.5 1341.9,216.2 1379.0,256.4 1416.1,311.3 1453.2,231.4 1490.3,94.5 1527.4,242.2 1564.4,230.7 1601.5,269.2 1638.6,166.3 1675.7,255.3 1712.8,238.5 1749.9,205.8 1787.0,141.4 1824.1,288.7 1861.1,131.9 1898.2,182.2 1935.3,212.9 1972.4,245.9 2009.5,197.7 2046.6,306.6 2083.7,261.1 2120.8,145.4 2157.9,261.8 2194.9,191.6 2232.0,165.0 2269.1,268.8 2306.2,177.5 2343.3,165.3 2380.4,180.5" fill="none" stroke="#7b1418" stroke-width="3.8" stroke-linejoin="round" stroke-linecap="butt"/></g>
<ellipse cx="660.3" cy="306.9" rx="4.5" ry="6.6" fill="#7b1418"/><ellipse cx="685.5" cy="156.9" rx="4.5" ry="6.6" fill="#7b1418"/><ellipse cx="710.7" cy="248.9" rx="4.5" ry="6.6" fill="#7b1418"/><ellipse cx="736.0" cy="271.5" rx="4.5" ry="6.6" fill="#7b1418"/><ellipse cx="761.2" cy="236.1" rx="4.5" ry="6.6" fill="#7b1418"/><ellipse cx="786.4" cy="257.4" rx="4.5" ry="6.6" fill="#7b1418"/><ellipse cx="811.6" cy="264.4" rx="4.5" ry="6.6" fill="#7b1418"/><ellipse cx="836.8" cy="287.0" rx="4.5" ry="6.6" fill="#7b1418"/><ellipse cx="862.1" cy="152.2" rx="4.5" ry="6.6" fill="#7b1418"/><ellipse cx="887.3" cy="271.5" rx="4.5" ry="6.6" fill="#7b1418"/><ellipse cx="912.5" cy="216.2" rx="4.5" ry="6.6" fill="#7b1418"/><ellipse cx="937.7" cy="256.4" rx="4.5" ry="6.6" fill="#7b1418"/><ellipse cx="962.9" cy="311.3" rx="4.5" ry="6.6" fill="#7b1418"/><ellipse cx="988.2" cy="231.4" rx="4.5" ry="6.6" fill="#7b1418"/><ellipse cx="1013.4" cy="94.5" rx="4.5" ry="6.6" fill="#7b1418"/><ellipse cx="1038.6" cy="242.2" rx="4.5" ry="6.6" fill="#7b1418"/><ellipse cx="1063.8" cy="230.7" rx="4.5" ry="6.6" fill="#7b1418"/><ellipse cx="1089.0" cy="269.2" rx="4.5" ry="6.6" fill="#7b1418"/><ellipse cx="1114.3" cy="166.3" rx="4.5" ry="6.6" fill="#7b1418"/><ellipse cx="1139.5" cy="255.3" rx="4.5" ry="6.6" fill="#7b1418"/><ellipse cx="1164.7" cy="238.5" rx="4.5" ry="6.6" fill="#7b1418"/><ellipse cx="1189.9" cy="205.8" rx="4.5" ry="6.6" fill="#7b1418"/><ellipse cx="1215.1" cy="141.4" rx="4.5" ry="6.6" fill="#7b1418"/><ellipse cx="1240.4" cy="288.7" rx="4.5" ry="6.6" fill="#7b1418"/><ellipse cx="1265.6" cy="131.9" rx="4.5" ry="6.6" fill="#7b1418"/><ellipse cx="1290.8" cy="182.2" rx="4.5" ry="6.6" fill="#7b1418"/><ellipse cx="1316.0" cy="212.9" rx="4.5" ry="6.6" fill="#7b1418"/><ellipse cx="1341.2" cy="245.9" rx="4.5" ry="6.6" fill="#7b1418"/><ellipse cx="1366.5" cy="197.7" rx="4.5" ry="6.6" fill="#7b1418"/><ellipse cx="1391.7" cy="306.6" rx="4.5" ry="6.6" fill="#7b1418"/><ellipse cx="1416.9" cy="261.1" rx="4.5" ry="6.6" fill="#7b1418"/><ellipse cx="1442.1" cy="145.4" rx="4.5" ry="6.6" fill="#7b1418"/><ellipse cx="1467.3" cy="261.8" rx="4.5" ry="6.6" fill="#7b1418"/><ellipse cx="1492.6" cy="191.6" rx="4.5" ry="6.6" fill="#7b1418"/><ellipse cx="1517.8" cy="165.0" rx="4.5" ry="6.6" fill="#7b1418"/><ellipse cx="1543.0" cy="268.8" rx="4.5" ry="6.6" fill="#7b1418"/><ellipse cx="1568.2" cy="177.5" rx="4.5" ry="6.6" fill="#7b1418"/><ellipse cx="1593.4" cy="165.3" rx="4.5" ry="6.6" fill="#7b1418"/><ellipse cx="1618.7" cy="180.5" rx="4.5" ry="6.6" fill="#7b1418"/>
<rect x="1524.4" y="86.5" width="131.2" height="56" rx="4.5" fill="#fff" fill-opacity="0.8" stroke="#ccc" stroke-width="1.4"/>
<line x1="1531" y1="112.2" x2="1576.5" y2="112.2" stroke="#7b1418" stroke-width="3"/>
<ellipse cx="1554.3" cy="112.2" rx="4.5" ry="6.6" fill="#7b1418"/>
<text x="1592.5" y="123.0" font-size="30.5" font-family="'DejaVu Sans','Liberation Sans',sans-serif" fill="#000" textLength="55.0" lengthAdjust="spacingAndGlyphs">dSST</text>
<path d="M612.1,70.9H1667.0M612.1,373.8H1667.0" stroke="#000" stroke-width="2" fill="none"/>
<path d="M612.8,70.9V373.8M1666.3,70.9V373.8" stroke="#000" stroke-width="1.4" fill="none"/>
<text x="1116.8" y="446.6" font-size="30.5" font-family="'DejaVu Sans','Liberation Sans',sans-serif" fill="#000" textLength="62.0" lengthAdjust="spacingAndGlyphs">year</text>
<text x="549.3" y="313.9" font-size="21" font-family="'DejaVu Sans','Liberation Sans',sans-serif" fill="#000" textLength="70.0" lengthAdjust="spacingAndGlyphs" transform="rotate(-90 549.3 313.9)">Qnet</text>
<text x="549.3" y="237.2" font-size="21" font-family="'DejaVu Sans','Liberation Sans',sans-serif" fill="#000" textLength="107.5" lengthAdjust="spacingAndGlyphs" transform="rotate(-90 549.3 237.2)">(<tspan font-style="italic">W</tspan>/<tspan font-style="italic">m</tspan><tspan font-size="15.5" dy="-7.5">2</tspan><tspan dy="7.5">)</tspan></text>
</g>
<g id="panelC">
<clipPath id="clipC"><rect x="124.8" y="535.2" width="652.8000000000001" height="404.4"/></clipPath>
<g clip-path="url(#clipC)">
<path d="M130.5,907.2 L135.9,905.0 L141.2,902.5 L146.6,899.8 L151.9,896.7 L157.3,893.2 L162.6,889.4 L168.0,885.2 L173.3,880.5 L178.7,875.5 L184.0,869.9 L189.4,863.9 L194.7,857.3 L200.1,850.2 L205.4,842.7 L210.8,834.5 L216.1,825.9 L221.5,816.7 L226.8,807.0 L232.2,796.9 L237.5,786.2 L242.9,775.1 L248.2,763.7 L253.6,751.8 L259.0,739.7 L264.3,727.3 L269.7,714.7 L275.0,702.1 L280.4,689.4 L285.7,676.7 L291.1,664.2 L296.4,652.0 L301.8,640.0 L307.1,628.5 L312.5,617.5 L317.8,607.0 L323.2,597.3 L328.5,588.3 L333.9,580.2 L339.2,573.0 L344.6,566.8 L349.9,561.7 L355.3,557.6 L360.6,554.7 L366.0,552.9 L371.3,552.4 L376.7,553.0 L382.0,554.8 L387.4,557.7 L392.7,561.8 L398.1,567.0 L403.4,573.3 L408.8,580.5 L414.1,588.6 L419.5,597.6 L424.9,607.4 L430.2,617.9 L435.6,628.9 L440.9,640.5 L446.3,652.4 L451.6,664.7 L457.0,677.2 L462.3,689.9 L467.7,702.6 L473.0,715.2 L478.4,727.8 L483.7,740.1 L489.1,752.3 L494.4,764.1 L499.8,775.6 L505.1,786.6 L510.5,797.3 L515.8,807.4 L521.2,817.1 L526.5,826.2 L531.9,834.9 L537.2,843.0 L542.6,850.5 L547.9,857.6 L553.3,864.1 L558.6,870.1 L564.0,875.7 L569.3,880.7 L574.7,885.4 L580.0,889.6 L585.4,893.4 L590.7,896.8 L596.1,899.9 L601.5,902.6 L606.8,905.1 L612.2,907.3 L617.5,909.2 L622.9,910.9 L628.2,912.4 L633.6,913.7 L638.9,914.8 L644.3,915.8 L649.6,916.7 L655.0,917.4 L660.3,918.0 L665.7,918.6 L671.0,919.0 L676.4,919.4 L681.7,919.8 L687.1,920.0 L692.4,920.3 L697.8,920.5 L703.1,920.6 L708.5,920.8 L713.8,920.9 L719.2,921.0 L724.5,921.1 L729.9,921.1 L735.2,921.2 L740.6,921.2 L745.9,921.3 L751.3,921.3 L756.6,921.3 L762.0,921.3 L767.4,921.3 L772.7,921.4 L772.7,921.4 L130.5,921.4 Z" fill="#1f77b4" fill-opacity="0.5"/>
<path d="M130.5,865.6 L135.9,859.6 L141.2,853.2 L146.6,846.4 L151.9,839.1 L157.3,831.4 L162.6,823.2 L168.0,814.6 L173.3,805.6 L178.7,796.2 L184.0,786.5 L189.4,776.3 L194.7,765.9 L200.1,755.2 L205.4,744.3 L210.8,733.2 L216.1,722.0 L221.5,710.7 L226.8,699.4 L232.2,688.2 L237.5,677.2 L242.9,666.4 L248.2,655.8 L253.6,645.6 L259.0,635.9 L264.3,626.6 L269.7,618.0 L275.0,609.9 L280.4,602.6 L285.7,596.1 L291.1,590.4 L296.4,585.5 L301.8,581.6 L307.1,578.6 L312.5,576.6 L317.8,575.6 L323.2,575.5 L328.5,576.5 L333.9,578.5 L339.2,581.4 L344.6,585.3 L349.9,590.1 L355.3,595.7 L360.6,602.2 L366.0,609.5 L371.3,617.5 L376.7,626.1 L382.0,635.3 L387.4,645.1 L392.7,655.2 L398.1,665.8 L403.4,676.6 L408.8,687.6 L414.1,698.8 L419.5,710.1 L424.9,721.4 L430.2,732.6 L435.6,743.7 L440.9,754.6 L446.3,765.3 L451.6,775.8 L457.0,785.9 L462.3,795.7 L467.7,805.1 L473.0,814.2 L478.4,822.8 L483.7,831.0 L489.1,838.7 L494.4,846.0 L499.8,852.9 L505.1,859.3 L510.5,865.2 L515.8,870.8 L521.2,875.9 L526.5,880.6 L531.9,885.0 L537.2,889.0 L542.6,892.6 L547.9,895.9 L553.3,898.9 L558.6,901.5 L564.0,904.0 L569.3,906.1 L574.7,908.1 L580.0,909.8 L585.4,911.3 L590.7,912.7 L596.1,913.9 L601.5,914.9 L606.8,915.8 L612.2,916.6 L617.5,917.3 L622.9,918.0 L628.2,918.5 L633.6,918.9 L638.9,919.3 L644.3,919.6 L649.6,919.9 L655.0,920.2 L660.3,920.4 L665.7,920.5 L671.0,920.7 L676.4,920.8 L681.7,920.9 L687.1,921.0 L692.4,921.1 L697.8,921.1 L703.1,921.2 L708.5,921.2 L713.8,921.3 L719.2,921.3 L724.5,921.3 L729.9,921.3 L735.2,921.3 L740.6,921.4 L745.9,921.4 L751.3,921.4 L756.6,921.4 L762.0,921.4 L767.4,921.4 L772.7,921.4 L772.7,921.4 L130.5,921.4 Z" fill="#8b0000" fill-opacity="0.5"/>
<line x1="124.8" y1="535.2" x2="124.8" y2="939.6" stroke="#b0b0b0" stroke-width="1.4"/>
<line x1="206.4" y1="535.2" x2="206.4" y2="939.6" stroke="#b0b0b0" stroke-width="1.4"/>
<line x1="288.0" y1="535.2" x2="288.0" y2="939.6" stroke="#b0b0b0" stroke-width="1.4"/>
<line x1="369.6" y1="535.2" x2="369.6" y2="939.6" stroke="#b0b0b0" stroke-width="1.4"/>
<line x1="451.2" y1="535.2" x2="451.2" y2="939.6" stroke="#b0b0b0" stroke-width="1.4"/>
<line x1="532.8" y1="535.2" x2="532.8" y2="939.6" stroke="#b0b0b0" stroke-width="1.4"/>
<line x1="614.4" y1="535.2" x2="614.4" y2="939.6" stroke="#b0b0b0" stroke-width="1.4"/>
<line x1="696.0" y1="535.2" x2="696.0" y2="939.6" stroke="#b0b0b0" stroke-width="1.4"/>
<line x1="777.6" y1="535.2" x2="777.6" y2="939.6" stroke="#b0b0b0" stroke-width="1.4"/>
<line x1="124.8" y1="921.4" x2="777.6" y2="921.4" stroke="#b0b0b0" stroke-width="1.4"/>
<line x1="124.8" y1="855.5" x2="777.6" y2="855.5" stroke="#b0b0b0" stroke-width="1.4"/>
<line x1="124.8" y1="789.6" x2="777.6" y2="789.6" stroke="#b0b0b0" stroke-width="1.4"/>
<line x1="124.8" y1="723.7" x2="777.6" y2="723.7" stroke="#b0b0b0" stroke-width="1.4"/>
<line x1="124.8" y1="657.8" x2="777.6" y2="657.8" stroke="#b0b0b0" stroke-width="1.4"/>
<line x1="124.8" y1="591.9" x2="777.6" y2="591.9" stroke="#b0b0b0" stroke-width="1.4"/>
<path d="M130.5,907.2 L135.9,905.0 L141.2,902.5 L146.6,899.8 L151.9,896.7 L157.3,893.2 L162.6,889.4 L168.0,885.2 L173.3,880.5 L178.7,875.5 L184.0,869.9 L189.4,863.9 L194.7,857.3 L200.1,850.2 L205.4,842.7 L210.8,834.5 L216.1,825.9 L221.5,816.7 L226.8,807.0 L232.2,796.9 L237.5,786.2 L242.9,775.1 L248.2,763.7 L253.6,751.8 L259.0,739.7 L264.3,727.3 L269.7,714.7 L275.0,702.1 L280.4,689.4 L285.7,676.7 L291.1,664.2 L296.4,652.0 L301.8,640.0 L307.1,628.5 L312.5,617.5 L317.8,607.0 L323.2,597.3 L328.5,588.3 L333.9,580.2 L339.2,573.0 L344.6,566.8 L349.9,561.7 L355.3,557.6 L360.6,554.7 L366.0,552.9 L371.3,552.4 L376.7,553.0 L382.0,554.8 L387.4,557.7 L392.7,561.8 L398.1,567.0 L403.4,573.3 L408.8,580.5 L414.1,588.6 L419.5,597.6 L424.9,607.4 L430.2,617.9 L435.6,628.9 L440.9,640.5 L446.3,652.4 L451.6,664.7 L457.0,677.2 L462.3,689.9 L467.7,702.6 L473.0,715.2 L478.4,727.8 L483.7,740.1 L489.1,752.3 L494.4,764.1 L499.8,775.6 L505.1,786.6 L510.5,797.3 L515.8,807.4 L521.2,817.1 L526.5,826.2 L531.9,834.9 L537.2,843.0 L542.6,850.5 L547.9,857.6 L553.3,864.1 L558.6,870.1 L564.0,875.7 L569.3,880.7 L574.7,885.4 L580.0,889.6 L585.4,893.4 L590.7,896.8 L596.1,899.9 L601.5,902.6 L606.8,905.1 L612.2,907.3 L617.5,909.2 L622.9,910.9 L628.2,912.4 L633.6,913.7 L638.9,914.8 L644.3,915.8 L649.6,916.7 L655.0,917.4 L660.3,918.0 L665.7,918.6 L671.0,919.0 L676.4,919.4 L681.7,919.8 L687.1,920.0 L692.4,920.3 L697.8,920.5 L703.1,920.6 L708.5,920.8 L713.8,920.9 L719.2,921.0 L724.5,921.1 L729.9,921.1 L735.2,921.2 L740.6,921.2 L745.9,921.3 L751.3,921.3 L756.6,921.3 L762.0,921.3 L767.4,921.3 L772.7,921.4" fill="none" stroke="#000" stroke-width="3.2" stroke-linejoin="round"/>
<path d="M130.5,865.6 L135.9,859.6 L141.2,853.2 L146.6,846.4 L151.9,839.1 L157.3,831.4 L162.6,823.2 L168.0,814.6 L173.3,805.6 L178.7,796.2 L184.0,786.5 L189.4,776.3 L194.7,765.9 L200.1,755.2 L205.4,744.3 L210.8,733.2 L216.1,722.0 L221.5,710.7 L226.8,699.4 L232.2,688.2 L237.5,677.2 L242.9,666.4 L248.2,655.8 L253.6,645.6 L259.0,635.9 L264.3,626.6 L269.7,618.0 L275.0,609.9 L280.4,602.6 L285.7,596.1 L291.1,590.4 L296.4,585.5 L301.8,581.6 L307.1,578.6 L312.5,576.6 L317.8,575.6 L323.2,575.5 L328.5,576.5 L333.9,578.5 L339.2,581.4 L344.6,585.3 L349.9,590.1 L355.3,595.7 L360.6,602.2 L366.0,609.5 L371.3,617.5 L376.7,626.1 L382.0,635.3 L387.4,645.1 L392.7,655.2 L398.1,665.8 L403.4,676.6 L408.8,687.6 L414.1,698.8 L419.5,710.1 L424.9,721.4 L430.2,732.6 L435.6,743.7 L440.9,754.6 L446.3,765.3 L451.6,775.8 L457.0,785.9 L462.3,795.7 L467.7,805.1 L473.0,814.2 L478.4,822.8 L483.7,831.0 L489.1,838.7 L494.4,846.0 L499.8,852.9 L505.1,859.3 L510.5,865.2 L515.8,870.8 L521.2,875.9 L526.5,880.6 L531.9,885.0 L537.2,889.0 L542.6,892.6 L547.9,895.9 L553.3,898.9 L558.6,901.5 L564.0,904.0 L569.3,906.1 L574.7,908.1 L580.0,909.8 L585.4,911.3 L590.7,912.7 L596.1,913.9 L601.5,914.9 L606.8,915.8 L612.2,916.6 L617.5,917.3 L622.9,918.0 L628.2,918.5 L633.6,918.9 L638.9,919.3 L644.3,919.6 L649.6,919.9 L655.0,920.2 L660.3,920.4 L665.7,920.5 L671.0,920.7 L676.4,920.8 L681.7,920.9 L687.1,921.0 L692.4,921.1 L697.8,921.1 L703.1,921.2 L708.5,921.2 L713.8,921.3 L719.2,921.3 L724.5,921.3 L729.9,921.3 L735.2,921.3 L740.6,921.4 L745.9,921.4 L751.3,921.4 L756.6,921.4 L762.0,921.4 L767.4,921.4 L772.7,921.4" fill="none" stroke="#000" stroke-width="3.2" stroke-linejoin="round"/>
<line x1="371.2" y1="535.2" x2="371.2" y2="939.6" stroke="#2b2e83" stroke-width="3.4"/>
<line x1="526.3" y1="535.2" x2="526.3" y2="939.6" stroke="#2b2e83" stroke-width="2.7" stroke-dasharray="7.6 3.4"/>
<line x1="320.6" y1="535.2" x2="320.6" y2="939.6" stroke="#ec1c24" stroke-width="3.4"/>
<line x1="493.6" y1="535.2" x2="493.6" y2="939.6" stroke="#ec1c24" stroke-width="2.7" stroke-dasharray="7.6 3.4"/>
</g>
<line x1="124.8" y1="939.6" x2="124.8" y2="945.6" stroke="#000" stroke-width="1.5"/>
<text x="124.8" y="970.2" font-size="24" font-family="'DejaVu Sans','Liberation Sans',sans-serif" fill="#000" text-anchor="middle" textLength="17.3" lengthAdjust="spacingAndGlyphs">0</text>
<line x1="206.4" y1="939.6" x2="206.4" y2="945.6" stroke="#000" stroke-width="1.5"/>
<text x="206.4" y="970.2" font-size="24" font-family="'DejaVu Sans','Liberation Sans',sans-serif" fill="#000" text-anchor="middle" textLength="17.3" lengthAdjust="spacingAndGlyphs">5</text>
<line x1="288.0" y1="939.6" x2="288.0" y2="945.6" stroke="#000" stroke-width="1.5"/>
<text x="288.0" y="970.2" font-size="24" font-family="'DejaVu Sans','Liberation Sans',sans-serif" fill="#000" text-anchor="middle" textLength="35.5" lengthAdjust="spacingAndGlyphs">10</text>
<line x1="369.6" y1="939.6" x2="369.6" y2="945.6" stroke="#000" stroke-width="1.5"/>
<text x="369.6" y="970.2" font-size="24" font-family="'DejaVu Sans','Liberation Sans',sans-serif" fill="#000" text-anchor="middle" textLength="35.5" lengthAdjust="spacingAndGlyphs">15</text>
<line x1="451.2" y1="939.6" x2="451.2" y2="945.6" stroke="#000" stroke-width="1.5"/>
<text x="451.2" y="970.2" font-size="24" font-family="'DejaVu Sans','Liberation Sans',sans-serif" fill="#000" text-anchor="middle" textLength="35.5" lengthAdjust="spacingAndGlyphs">20</text>
<line x1="532.8" y1="939.6" x2="532.8" y2="945.6" stroke="#000" stroke-width="1.5"/>
<text x="532.8" y="970.2" font-size="24" font-family="'DejaVu Sans','Liberation Sans',sans-serif" fill="#000" text-anchor="middle" textLength="35.5" lengthAdjust="spacingAndGlyphs">25</text>
<line x1="614.4" y1="939.6" x2="614.4" y2="945.6" stroke="#000" stroke-width="1.5"/>
<text x="614.4" y="970.2" font-size="24" font-family="'DejaVu Sans','Liberation Sans',sans-serif" fill="#000" text-anchor="middle" textLength="35.5" lengthAdjust="spacingAndGlyphs">30</text>
<line x1="696.0" y1="939.6" x2="696.0" y2="945.6" stroke="#000" stroke-width="1.5"/>
<text x="696.0" y="970.2" font-size="24" font-family="'DejaVu Sans','Liberation Sans',sans-serif" fill="#000" text-anchor="middle" textLength="35.5" lengthAdjust="spacingAndGlyphs">35</text>
<line x1="777.6" y1="939.6" x2="777.6" y2="945.6" stroke="#000" stroke-width="1.5"/>
<text x="777.6" y="970.2" font-size="24" font-family="'DejaVu Sans','Liberation Sans',sans-serif" fill="#000" text-anchor="middle" textLength="35.5" lengthAdjust="spacingAndGlyphs">40</text>
<line x1="118.6" y1="921.4" x2="124.8" y2="921.4" stroke="#000" stroke-width="1.5"/>
<text x="111.0" y="930.3" font-size="24" font-family="'DejaVu Sans','Liberation Sans',sans-serif" fill="#000" text-anchor="end" textLength="62.0" lengthAdjust="spacingAndGlyphs">0.00</text>
<line x1="118.6" y1="855.5" x2="124.8" y2="855.5" stroke="#000" stroke-width="1.5"/>
<text x="111.0" y="864.4" font-size="24" font-family="'DejaVu Sans','Liberation Sans',sans-serif" fill="#000" text-anchor="end" textLength="62.0" lengthAdjust="spacingAndGlyphs">0.01</text>
<line x1="118.6" y1="789.6" x2="124.8" y2="789.6" stroke="#000" stroke-width="1.5"/>
<text x="111.0" y="798.5" font-size="24" font-family="'DejaVu Sans','Liberation Sans',sans-serif" fill="#000" text-anchor="end" textLength="62.0" lengthAdjust="spacingAndGlyphs">0.02</text>
<line x1="118.6" y1="723.7" x2="124.8" y2="723.7" stroke="#000" stroke-width="1.5"/>
<text x="111.0" y="732.6" font-size="24" font-family="'DejaVu Sans','Liberation Sans',sans-serif" fill="#000" text-anchor="end" textLength="62.0" lengthAdjust="spacingAndGlyphs">0.03</text>
<line x1="118.6" y1="657.8" x2="124.8" y2="657.8" stroke="#000" stroke-width="1.5"/>
<text x="111.0" y="666.7" font-size="24" font-family="'DejaVu Sans','Liberation Sans',sans-serif" fill="#000" text-anchor="end" textLength="62.0" lengthAdjust="spacingAndGlyphs">0.04</text>
<line x1="118.6" y1="591.9" x2="124.8" y2="591.9" stroke="#000" stroke-width="1.5"/>
<text x="111.0" y="600.8" font-size="24" font-family="'DejaVu Sans','Liberation Sans',sans-serif" fill="#000" text-anchor="end" textLength="62.0" lengthAdjust="spacingAndGlyphs">0.05</text>
<rect x="124.8" y="535.2" width="652.8000000000001" height="404.4" fill="none" stroke="#000" stroke-width="1.5"/>
<rect x="557.5" y="546.6" width="207.5" height="202" rx="4.5" fill="#fff" fill-opacity="0.8" stroke="#ccc" stroke-width="1.4"/>
<line x1="566.1" y1="564.5" x2="619.1" y2="564.5" stroke="#2b2e83" stroke-width="3.2"/>
<line x1="566.1" y1="597.0" x2="619.1" y2="597.0" stroke="#2b2e83" stroke-width="2.1" stroke-dasharray="7.6 3.4"/>
<line x1="566.1" y1="629.5" x2="619.1" y2="629.5" stroke="#ec1c24" stroke-width="3.2"/>
<line x1="566.1" y1="661.9" x2="619.1" y2="661.9" stroke="#ec1c24" stroke-width="2.1" stroke-dasharray="7.6 3.4"/>
<rect x="567.1" y="687.0999999999999" width="51.0" height="15.4" fill="#1f77b4" fill-opacity="0.5"/>
<rect x="567.1" y="719.5999999999999" width="51.0" height="15.4" fill="#8b0000" fill-opacity="0.5" stroke="#8b0000" stroke-opacity="0.5" stroke-width="1"/>
<text x="639.0" y="572.2" font-size="21.8" font-family="'DejaVu Sans','Liberation Sans',sans-serif" fill="#000" textLength="84.5" lengthAdjust="spacingAndGlyphs">mean1</text>
<text x="639.0" y="604.7" font-size="21.8" font-family="'DejaVu Sans','Liberation Sans',sans-serif" fill="#000" textLength="107.5" lengthAdjust="spacingAndGlyphs">95% line</text>
<text x="639.0" y="637.2" font-size="21.8" font-family="'DejaVu Sans','Liberation Sans',sans-serif" fill="#000" textLength="84.5" lengthAdjust="spacingAndGlyphs">mean2</text>
<text x="639.0" y="669.6" font-size="21.8" font-family="'DejaVu Sans','Liberation Sans',sans-serif" fill="#000" textLength="107.5" lengthAdjust="spacingAndGlyphs">95% line</text>
<text x="639.0" y="702.5" font-size="21.8" font-family="'DejaVu Sans','Liberation Sans',sans-serif" fill="#000" textLength="115.5" lengthAdjust="spacingAndGlyphs">Not MHW</text>
<text x="639.0" y="735.0" font-size="21.8" font-family="'DejaVu Sans','Liberation Sans',sans-serif" fill="#000" textLength="63.0" lengthAdjust="spacingAndGlyphs">MHW</text>
<text x="180.8" y="521.0" font-size="28.8" font-family="'DejaVu Sans','Liberation Sans',sans-serif" fill="#000" textLength="174.5" lengthAdjust="spacingAndGlyphs">NorthWest</text>
<text x="0.0" y="527.6" font-size="29.3" font-family="'Liberation Sans','DejaVu Sans',sans-serif" fill="#000" font-weight="bold">C</text>
<text x="372.0" y="1003.8" font-size="27.6" font-family="'DejaVu Sans','Liberation Sans',sans-serif" fill="#000" textLength="157.0" lengthAdjust="spacingAndGlyphs">Depth(m)</text>
<text x="38.0" y="816.5" font-size="33" font-family="'DejaVu Sans','Liberation Sans',sans-serif" fill="#000" textLength="156.0" lengthAdjust="spacingAndGlyphs" transform="rotate(-90 38.0 816.5)">probability</text>
</g>
<g id="panelD">
<clipPath id="clipD"><rect x="1004.9" y="535.2" width="652.8000000000001" height="404.4"/></clipPath>
<g clip-path="url(#clipD)">
<path d="M1013.1,896.5 L1018.4,893.4 L1023.8,890.1 L1029.2,886.5 L1034.5,882.5 L1039.9,878.2 L1045.3,873.6 L1050.7,868.6 L1056.0,863.3 L1061.4,857.5 L1066.8,851.4 L1072.2,844.9 L1077.5,838.0 L1082.9,830.8 L1088.3,823.2 L1093.6,815.2 L1099.0,806.8 L1104.4,798.2 L1109.8,789.2 L1115.1,780.0 L1120.5,770.5 L1125.9,760.8 L1131.2,750.9 L1136.6,740.9 L1142.0,730.8 L1147.4,720.7 L1152.7,710.6 L1158.1,700.6 L1163.5,690.7 L1168.8,681.0 L1174.2,671.6 L1179.6,662.5 L1185.0,653.7 L1190.3,645.4 L1195.7,637.6 L1201.1,630.3 L1206.5,623.7 L1211.8,617.7 L1217.2,612.4 L1222.6,607.8 L1227.9,604.0 L1233.3,601.0 L1238.7,598.8 L1244.1,597.5 L1249.4,597.0 L1254.8,597.4 L1260.2,598.7 L1265.5,600.7 L1270.9,603.6 L1276.3,607.4 L1281.7,611.9 L1287.0,617.1 L1292.4,623.0 L1297.8,629.6 L1303.1,636.8 L1308.5,644.6 L1313.9,652.8 L1319.3,661.5 L1324.6,670.6 L1330.0,680.0 L1335.4,689.7 L1340.8,699.6 L1346.1,709.6 L1351.5,719.7 L1356.9,729.8 L1362.2,739.9 L1367.6,749.9 L1373.0,759.8 L1378.4,769.5 L1383.7,779.0 L1389.1,788.3 L1394.5,797.3 L1399.8,806.0 L1405.2,814.3 L1410.6,822.4 L1416.0,830.0 L1421.3,837.3 L1426.7,844.2 L1432.1,850.8 L1437.4,856.9 L1442.8,862.7 L1448.2,868.1 L1453.6,873.1 L1458.9,877.8 L1464.3,882.1 L1469.7,886.1 L1475.1,889.8 L1480.4,893.1 L1485.8,896.2 L1491.2,899.0 L1496.5,901.5 L1501.9,903.8 L1507.3,905.9 L1512.7,907.8 L1518.0,909.4 L1523.4,910.9 L1528.8,912.3 L1534.1,913.4 L1539.5,914.5 L1544.9,915.4 L1550.3,916.2 L1555.6,917.0 L1561.0,917.6 L1566.4,918.1 L1571.7,918.6 L1577.1,919.0 L1582.5,919.4 L1587.9,919.7 L1593.2,919.9 L1598.6,920.2 L1604.0,920.4 L1609.4,920.5 L1614.7,920.7 L1620.1,920.8 L1625.5,920.9 L1630.8,921.0 L1636.2,921.1 L1641.6,921.1 L1647.0,921.2 L1652.3,921.2 L1657.7,921.2 L1657.7,921.4 L1013.1,921.4 Z" fill="#1f77b4" fill-opacity="0.5"/>
<path d="M1013.1,921.0 L1018.4,920.9 L1023.8,920.8 L1029.2,920.6 L1034.5,920.4 L1039.9,920.2 L1045.3,920.0 L1050.7,919.7 L1056.0,919.3 L1061.4,918.9 L1066.8,918.4 L1072.2,917.8 L1077.5,917.1 L1082.9,916.3 L1088.3,915.3 L1093.6,914.2 L1099.0,912.9 L1104.4,911.5 L1109.8,909.8 L1115.1,907.9 L1120.5,905.7 L1125.9,903.2 L1131.2,900.4 L1136.6,897.3 L1142.0,893.8 L1147.4,889.9 L1152.7,885.6 L1158.1,880.8 L1163.5,875.6 L1168.8,869.8 L1174.2,863.5 L1179.6,856.7 L1185.0,849.3 L1190.3,841.4 L1195.7,832.9 L1201.1,823.8 L1206.5,814.2 L1211.8,804.0 L1217.2,793.3 L1222.6,782.1 L1227.9,770.5 L1233.3,758.5 L1238.7,746.1 L1244.1,733.4 L1249.4,720.4 L1254.8,707.4 L1260.2,694.2 L1265.5,681.1 L1270.9,668.2 L1276.3,655.4 L1281.7,642.9 L1287.0,630.9 L1292.4,619.4 L1297.8,608.6 L1303.1,598.4 L1308.5,589.1 L1313.9,580.7 L1319.3,573.3 L1324.6,566.9 L1330.0,561.7 L1335.4,557.6 L1340.8,554.8 L1346.1,553.3 L1351.5,553.0 L1356.9,553.9 L1362.2,556.2 L1367.6,559.6 L1373.0,564.3 L1378.4,570.1 L1383.7,577.1 L1389.1,585.0 L1394.5,593.9 L1399.8,603.7 L1405.2,614.2 L1410.6,625.5 L1416.0,637.2 L1421.3,649.5 L1426.7,662.1 L1432.1,675.0 L1437.4,688.1 L1442.8,701.2 L1448.2,714.3 L1453.6,727.3 L1458.9,740.1 L1464.3,752.7 L1469.7,764.9 L1475.1,776.8 L1480.4,788.2 L1485.8,799.1 L1491.2,809.5 L1496.5,819.4 L1501.9,828.7 L1507.3,837.5 L1512.7,845.7 L1518.0,853.3 L1523.4,860.4 L1528.8,866.9 L1534.1,872.9 L1539.5,878.4 L1544.9,883.4 L1550.3,887.9 L1555.6,892.0 L1561.0,895.7 L1566.4,899.0 L1571.7,902.0 L1577.1,904.6 L1582.5,906.9 L1587.9,908.9 L1593.2,910.7 L1598.6,912.3 L1604.0,913.6 L1609.4,914.8 L1614.7,915.8 L1620.1,916.7 L1625.5,917.5 L1630.8,918.1 L1636.2,918.7 L1641.6,919.1 L1647.0,919.5 L1652.3,919.8 L1657.7,920.1 L1657.7,921.4 L1013.1,921.4 Z" fill="#8b0000" fill-opacity="0.5"/>
<line x1="1004.9" y1="535.2" x2="1004.9" y2="939.6" stroke="#b0b0b0" stroke-width="1.4"/>
<line x1="1086.5" y1="535.2" x2="1086.5" y2="939.6" stroke="#b0b0b0" stroke-width="1.4"/>
<line x1="1168.1" y1="535.2" x2="1168.1" y2="939.6" stroke="#b0b0b0" stroke-width="1.4"/>
<line x1="1249.7" y1="535.2" x2="1249.7" y2="939.6" stroke="#b0b0b0" stroke-width="1.4"/>
<line x1="1331.3" y1="535.2" x2="1331.3" y2="939.6" stroke="#b0b0b0" stroke-width="1.4"/>
<line x1="1412.9" y1="535.2" x2="1412.9" y2="939.6" stroke="#b0b0b0" stroke-width="1.4"/>
<line x1="1494.5" y1="535.2" x2="1494.5" y2="939.6" stroke="#b0b0b0" stroke-width="1.4"/>
<line x1="1576.1" y1="535.2" x2="1576.1" y2="939.6" stroke="#b0b0b0" stroke-width="1.4"/>
<line x1="1657.7" y1="535.2" x2="1657.7" y2="939.6" stroke="#b0b0b0" stroke-width="1.4"/>
<line x1="1004.9" y1="921.4" x2="1657.7" y2="921.4" stroke="#b0b0b0" stroke-width="1.4"/>
<line x1="1004.9" y1="869.5" x2="1657.7" y2="869.5" stroke="#b0b0b0" stroke-width="1.4"/>
<line x1="1004.9" y1="817.6" x2="1657.7" y2="817.6" stroke="#b0b0b0" stroke-width="1.4"/>
<line x1="1004.9" y1="765.7" x2="1657.7" y2="765.7" stroke="#b0b0b0" stroke-width="1.4"/>
<line x1="1004.9" y1="713.8" x2="1657.7" y2="713.8" stroke="#b0b0b0" stroke-width="1.4"/>
<line x1="1004.9" y1="661.9" x2="1657.7" y2="661.9" stroke="#b0b0b0" stroke-width="1.4"/>
<line x1="1004.9" y1="610.0" x2="1657.7" y2="610.0" stroke="#b0b0b0" stroke-width="1.4"/>
<line x1="1004.9" y1="558.1" x2="1657.7" y2="558.1" stroke="#b0b0b0" stroke-width="1.4"/>
<path d="M1013.1,896.5 L1018.4,893.4 L1023.8,890.1 L1029.2,886.5 L1034.5,882.5 L1039.9,878.2 L1045.3,873.6 L1050.7,868.6 L1056.0,863.3 L1061.4,857.5 L1066.8,851.4 L1072.2,844.9 L1077.5,838.0 L1082.9,830.8 L1088.3,823.2 L1093.6,815.2 L1099.0,806.8 L1104.4,798.2 L1109.8,789.2 L1115.1,780.0 L1120.5,770.5 L1125.9,760.8 L1131.2,750.9 L1136.6,740.9 L1142.0,730.8 L1147.4,720.7 L1152.7,710.6 L1158.1,700.6 L1163.5,690.7 L1168.8,681.0 L1174.2,671.6 L1179.6,662.5 L1185.0,653.7 L1190.3,645.4 L1195.7,637.6 L1201.1,630.3 L1206.5,623.7 L1211.8,617.7 L1217.2,612.4 L1222.6,607.8 L1227.9,604.0 L1233.3,601.0 L1238.7,598.8 L1244.1,597.5 L1249.4,597.0 L1254.8,597.4 L1260.2,598.7 L1265.5,600.7 L1270.9,603.6 L1276.3,607.4 L1281.7,611.9 L1287.0,617.1 L1292.4,623.0 L1297.8,629.6 L1303.1,636.8 L1308.5,644.6 L1313.9,652.8 L1319.3,661.5 L1324.6,670.6 L1330.0,680.0 L1335.4,689.7 L1340.8,699.6 L1346.1,709.6 L1351.5,719.7 L1356.9,729.8 L1362.2,739.9 L1367.6,749.9 L1373.0,759.8 L1378.4,769.5 L1383.7,779.0 L1389.1,788.3 L1394.5,797.3 L1399.8,806.0 L1405.2,814.3 L1410.6,822.4 L1416.0,830.0 L1421.3,837.3 L1426.7,844.2 L1432.1,850.8 L1437.4,856.9 L1442.8,862.7 L1448.2,868.1 L1453.6,873.1 L1458.9,877.8 L1464.3,882.1 L1469.7,886.1 L1475.1,889.8 L1480.4,893.1 L1485.8,896.2 L1491.2,899.0 L1496.5,901.5 L1501.9,903.8 L1507.3,905.9 L1512.7,907.8 L1518.0,909.4 L1523.4,910.9 L1528.8,912.3 L1534.1,913.4 L1539.5,914.5 L1544.9,915.4 L1550.3,916.2 L1555.6,917.0 L1561.0,917.6 L1566.4,918.1 L1571.7,918.6 L1577.1,919.0 L1582.5,919.4 L1587.9,919.7 L1593.2,919.9 L1598.6,920.2 L1604.0,920.4 L1609.4,920.5 L1614.7,920.7 L1620.1,920.8 L1625.5,920.9 L1630.8,921.0 L1636.2,921.1 L1641.6,921.1 L1647.0,921.2 L1652.3,921.2 L1657.7,921.2" fill="none" stroke="#000" stroke-width="3.2" stroke-linejoin="round"/>
<path d="M1013.1,921.0 L1018.4,920.9 L1023.8,920.8 L1029.2,920.6 L1034.5,920.4 L1039.9,920.2 L1045.3,920.0 L1050.7,919.7 L1056.0,919.3 L1061.4,918.9 L1066.8,918.4 L1072.2,917.8 L1077.5,917.1 L1082.9,916.3 L1088.3,915.3 L1093.6,914.2 L1099.0,912.9 L1104.4,911.5 L1109.8,909.8 L1115.1,907.9 L1120.5,905.7 L1125.9,903.2 L1131.2,900.4 L1136.6,897.3 L1142.0,893.8 L1147.4,889.9 L1152.7,885.6 L1158.1,880.8 L1163.5,875.6 L1168.8,869.8 L1174.2,863.5 L1179.6,856.7 L1185.0,849.3 L1190.3,841.4 L1195.7,832.9 L1201.1,823.8 L1206.5,814.2 L1211.8,804.0 L1217.2,793.3 L1222.6,782.1 L1227.9,770.5 L1233.3,758.5 L1238.7,746.1 L1244.1,733.4 L1249.4,720.4 L1254.8,707.4 L1260.2,694.2 L1265.5,681.1 L1270.9,668.2 L1276.3,655.4 L1281.7,642.9 L1287.0,630.9 L1292.4,619.4 L1297.8,608.6 L1303.1,598.4 L1308.5,589.1 L1313.9,580.7 L1319.3,573.3 L1324.6,566.9 L1330.0,561.7 L1335.4,557.6 L1340.8,554.8 L1346.1,553.3 L1351.5,553.0 L1356.9,553.9 L1362.2,556.2 L1367.6,559.6 L1373.0,564.3 L1378.4,570.1 L1383.7,577.1 L1389.1,585.0 L1394.5,593.9 L1399.8,603.7 L1405.2,614.2 L1410.6,625.5 L1416.0,637.2 L1421.3,649.5 L1426.7,662.1 L1432.1,675.0 L1437.4,688.1 L1442.8,701.2 L1448.2,714.3 L1453.6,727.3 L1458.9,740.1 L1464.3,752.7 L1469.7,764.9 L1475.1,776.8 L1480.4,788.2 L1485.8,799.1 L1491.2,809.5 L1496.5,819.4 L1501.9,828.7 L1507.3,837.5 L1512.7,845.7 L1518.0,853.3 L1523.4,860.4 L1528.8,866.9 L1534.1,872.9 L1539.5,878.4 L1544.9,883.4 L1550.3,887.9 L1555.6,892.0 L1561.0,895.7 L1566.4,899.0 L1571.7,902.0 L1577.1,904.6 L1582.5,906.9 L1587.9,908.9 L1593.2,910.7 L1598.6,912.3 L1604.0,913.6 L1609.4,914.8 L1614.7,915.8 L1620.1,916.7 L1625.5,917.5 L1630.8,918.1 L1636.2,918.7 L1641.6,919.1 L1647.0,919.5 L1652.3,919.8 L1657.7,920.1" fill="none" stroke="#000" stroke-width="3.2" stroke-linejoin="round"/>
<line x1="1249.7" y1="535.2" x2="1249.7" y2="939.6" stroke="#2b2e83" stroke-width="3.4"/>
<line x1="1073.1" y1="535.2" x2="1073.1" y2="939.6" stroke="#2b2e83" stroke-width="2.7" stroke-dasharray="7.6 3.4"/>
<line x1="1350.1" y1="535.2" x2="1350.1" y2="939.6" stroke="#ec1c24" stroke-width="3.4"/>
<line x1="1219.3" y1="535.2" x2="1219.3" y2="939.6" stroke="#ec1c24" stroke-width="2.7" stroke-dasharray="7.6 3.4"/>
</g>
<line x1="1004.9" y1="939.6" x2="1004.9" y2="945.6" stroke="#000" stroke-width="1.5"/>
<text x="1004.9" y="970.2" font-size="24" font-family="'DejaVu Sans','Liberation Sans',sans-serif" fill="#000" text-anchor="middle" textLength="44.5" lengthAdjust="spacingAndGlyphs">0.0</text>
<line x1="1086.5" y1="939.6" x2="1086.5" y2="945.6" stroke="#000" stroke-width="1.5"/>
<text x="1086.5" y="970.2" font-size="24" font-family="'DejaVu Sans','Liberation Sans',sans-serif" fill="#000" text-anchor="middle" textLength="44.5" lengthAdjust="spacingAndGlyphs">0.1</text>
<line x1="1168.1" y1="939.6" x2="1168.1" y2="945.6" stroke="#000" stroke-width="1.5"/>
<text x="1168.1" y="970.2" font-size="24" font-family="'DejaVu Sans','Liberation Sans',sans-serif" fill="#000" text-anchor="middle" textLength="44.5" lengthAdjust="spacingAndGlyphs">0.2</text>
<line x1="1249.7" y1="939.6" x2="1249.7" y2="945.6" stroke="#000" stroke-width="1.5"/>
<text x="1249.7" y="970.2" font-size="24" font-family="'DejaVu Sans','Liberation Sans',sans-serif" fill="#000" text-anchor="middle" textLength="44.5" lengthAdjust="spacingAndGlyphs">0.3</text>
<line x1="1331.3" y1="939.6" x2="1331.3" y2="945.6" stroke="#000" stroke-width="1.5"/>
<text x="1331.3" y="970.2" font-size="24" font-family="'DejaVu Sans','Liberation Sans',sans-serif" fill="#000" text-anchor="middle" textLength="44.5" lengthAdjust="spacingAndGlyphs">0.4</text>
<line x1="1412.9" y1="939.6" x2="1412.9" y2="945.6" stroke="#000" stroke-width="1.5"/>
<text x="1412.9" y="970.2" font-size="24" font-family="'DejaVu Sans','Liberation Sans',sans-serif" fill="#000" text-anchor="middle" textLength="44.5" lengthAdjust="spacingAndGlyphs">0.5</text>
<line x1="1494.5" y1="939.6" x2="1494.5" y2="945.6" stroke="#000" stroke-width="1.5"/>
<text x="1494.5" y="970.2" font-size="24" font-family="'DejaVu Sans','Liberation Sans',sans-serif" fill="#000" text-anchor="middle" textLength="44.5" lengthAdjust="spacingAndGlyphs">0.6</text>
<line x1="1576.1" y1="939.6" x2="1576.1" y2="945.6" stroke="#000" stroke-width="1.5"/>
<text x="1576.1" y="970.2" font-size="24" font-family="'DejaVu Sans','Liberation Sans',sans-serif" fill="#000" text-anchor="middle" textLength="44.5" lengthAdjust="spacingAndGlyphs">0.7</text>
<line x1="1657.7" y1="939.6" x2="1657.7" y2="945.6" stroke="#000" stroke-width="1.5"/>
<text x="1657.7" y="970.2" font-size="24" font-family="'DejaVu Sans','Liberation Sans',sans-serif" fill="#000" text-anchor="middle" textLength="44.5" lengthAdjust="spacingAndGlyphs">0.8</text>
<line x1="998.6999999999999" y1="921.4" x2="1004.9" y2="921.4" stroke="#000" stroke-width="1.5"/>
<text x="991.1" y="930.3" font-size="24" font-family="'DejaVu Sans','Liberation Sans',sans-serif" fill="#000" text-anchor="end" textLength="62.0" lengthAdjust="spacingAndGlyphs">0.00</text>
<line x1="998.6999999999999" y1="869.5" x2="1004.9" y2="869.5" stroke="#000" stroke-width="1.5"/>
<text x="991.1" y="878.4" font-size="24" font-family="'DejaVu Sans','Liberation Sans',sans-serif" fill="#000" text-anchor="end" textLength="62.0" lengthAdjust="spacingAndGlyphs">0.01</text>
<line x1="998.6999999999999" y1="817.6" x2="1004.9" y2="817.6" stroke="#000" stroke-width="1.5"/>
<text x="991.1" y="826.5" font-size="24" font-family="'DejaVu Sans','Liberation Sans',sans-serif" fill="#000" text-anchor="end" textLength="62.0" lengthAdjust="spacingAndGlyphs">0.02</text>
<line x1="998.6999999999999" y1="765.7" x2="1004.9" y2="765.7" stroke="#000" stroke-width="1.5"/>
<text x="991.1" y="774.6" font-size="24" font-family="'DejaVu Sans','Liberation Sans',sans-serif" fill="#000" text-anchor="end" textLength="62.0" lengthAdjust="spacingAndGlyphs">0.03</text>
<line x1="998.6999999999999" y1="713.8" x2="1004.9" y2="713.8" stroke="#000" stroke-width="1.5"/>
<text x="991.1" y="722.7" font-size="24" font-family="'DejaVu Sans','Liberation Sans',sans-serif" fill="#000" text-anchor="end" textLength="62.0" lengthAdjust="spacingAndGlyphs">0.04</text>
<line x1="998.6999999999999" y1="661.9" x2="1004.9" y2="661.9" stroke="#000" stroke-width="1.5"/>
<text x="991.1" y="670.8" font-size="24" font-family="'DejaVu Sans','Liberation Sans',sans-serif" fill="#000" text-anchor="end" textLength="62.0" lengthAdjust="spacingAndGlyphs">0.05</text>
<line x1="998.6999999999999" y1="610.0" x2="1004.9" y2="610.0" stroke="#000" stroke-width="1.5"/>
<text x="991.1" y="618.9" font-size="24" font-family="'DejaVu Sans','Liberation Sans',sans-serif" fill="#000" text-anchor="end" textLength="62.0" lengthAdjust="spacingAndGlyphs">0.06</text>
<line x1="998.6999999999999" y1="558.1" x2="1004.9" y2="558.1" stroke="#000" stroke-width="1.5"/>
<text x="991.1" y="567.0" font-size="24" font-family="'DejaVu Sans','Liberation Sans',sans-serif" fill="#000" text-anchor="end" textLength="62.0" lengthAdjust="spacingAndGlyphs">0.07</text>
<rect x="1004.9" y="535.2" width="652.8000000000001" height="404.4" fill="none" stroke="#000" stroke-width="1.5"/>
<rect x="1437.3" y="546.6" width="207.5" height="202" rx="4.5" fill="#fff" fill-opacity="0.8" stroke="#ccc" stroke-width="1.4"/>
<line x1="1445.8999999999999" y1="564.5" x2="1498.8999999999999" y2="564.5" stroke="#2b2e83" stroke-width="3.2"/>
<line x1="1445.8999999999999" y1="597.0" x2="1498.8999999999999" y2="597.0" stroke="#2b2e83" stroke-width="2.1" stroke-dasharray="7.6 3.4"/>
<line x1="1445.8999999999999" y1="629.5" x2="1498.8999999999999" y2="629.5" stroke="#ec1c24" stroke-width="3.2"/>
<line x1="1445.8999999999999" y1="661.9" x2="1498.8999999999999" y2="661.9" stroke="#ec1c24" stroke-width="2.1" stroke-dasharray="7.6 3.4"/>
<rect x="1446.8999999999999" y="687.0999999999999" width="51.0" height="15.4" fill="#1f77b4" fill-opacity="0.5"/>
<rect x="1446.8999999999999" y="719.5999999999999" width="51.0" height="15.4" fill="#8b0000" fill-opacity="0.5" stroke="#8b0000" stroke-opacity="0.5" stroke-width="1"/>
<text x="1518.8" y="572.2" font-size="21.8" font-family="'DejaVu Sans','Liberation Sans',sans-serif" fill="#000" textLength="84.5" lengthAdjust="spacingAndGlyphs">mean1</text>
<text x="1518.8" y="604.7" font-size="21.8" font-family="'DejaVu Sans','Liberation Sans',sans-serif" fill="#000" textLength="107.5" lengthAdjust="spacingAndGlyphs">95% line</text>
<text x="1518.8" y="637.2" font-size="21.8" font-family="'DejaVu Sans','Liberation Sans',sans-serif" fill="#000" textLength="84.5" lengthAdjust="spacingAndGlyphs">mean2</text>
<text x="1518.8" y="669.6" font-size="21.8" font-family="'DejaVu Sans','Liberation Sans',sans-serif" fill="#000" textLength="107.5" lengthAdjust="spacingAndGlyphs">95% line</text>
<text x="1518.8" y="702.5" font-size="21.8" font-family="'DejaVu Sans','Liberation Sans',sans-serif" fill="#000" textLength="115.5" lengthAdjust="spacingAndGlyphs">Not MHW</text>
<text x="1518.8" y="735.0" font-size="21.8" font-family="'DejaVu Sans','Liberation Sans',sans-serif" fill="#000" textLength="63.0" lengthAdjust="spacingAndGlyphs">MHW</text>
<text x="1063.5" y="521.0" font-size="28.8" font-family="'DejaVu Sans','Liberation Sans',sans-serif" fill="#000" textLength="178.0" lengthAdjust="spacingAndGlyphs">SouthWest</text>
<text x="867.6" y="527.6" font-size="29.3" font-family="'Liberation Sans','DejaVu Sans',sans-serif" fill="#000" font-weight="bold">D</text>
<text x="1290.2" y="1004.3" font-size="29" font-family="'DejaVu Sans','Liberation Sans',sans-serif" fill="#000" textLength="82.0" lengthAdjust="spacingAndGlyphs"><tspan font-size="20.5" dy="-10.5" font-style="italic">o</tspan><tspan dy="10.5" font-style="italic">C</tspan><tspan font-style="italic">/m</tspan></text>
<text x="918.1" y="816.5" font-size="33" font-family="'DejaVu Sans','Liberation Sans',sans-serif" fill="#000" textLength="156.0" lengthAdjust="spacingAndGlyphs" transform="rotate(-90 918.1 816.5)">probability</text>
</g>
</svg>
</body></html>
